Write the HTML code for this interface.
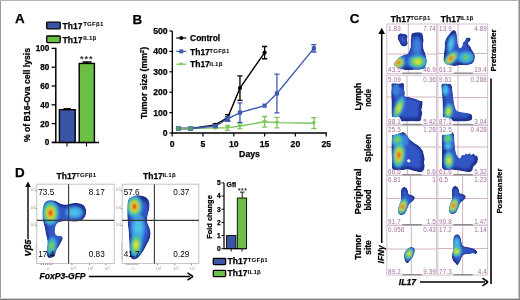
<!DOCTYPE html><html><head><meta charset="utf-8"><style>html,body{margin:0;padding:0;background:#fff;overflow:hidden}svg{display:block;filter:blur(0.3px)}text{font-family:"Liberation Sans",sans-serif}</style></head><body>
<svg width="520" height="300" viewBox="0 0 520 300">
<defs>
<radialGradient id="hotR" cx="50%" cy="50%" r="50%"><stop offset="0" stop-color="#d0201a"/><stop offset="0.25" stop-color="#e8a020"/><stop offset="0.45" stop-color="#d8e030"/><stop offset="0.65" stop-color="#60c050"/><stop offset="0.85" stop-color="#30b0d8"/><stop offset="1" stop-color="#3070d0" stop-opacity="0"/></radialGradient>
<radialGradient id="hotY" cx="50%" cy="50%" r="50%"><stop offset="0" stop-color="#e8e030"/><stop offset="0.3" stop-color="#a0d040"/><stop offset="0.55" stop-color="#50c060"/><stop offset="0.8" stop-color="#30a8e0"/><stop offset="1" stop-color="#3070d0" stop-opacity="0"/></radialGradient>
<radialGradient id="hotG" cx="50%" cy="50%" r="50%"><stop offset="0" stop-color="#70c850"/><stop offset="0.45" stop-color="#40b8c0"/><stop offset="0.8" stop-color="#3090e0"/><stop offset="1" stop-color="#3070d0" stop-opacity="0"/></radialGradient>
<radialGradient id="hotC" cx="50%" cy="50%" r="50%"><stop offset="0" stop-color="#50c8e8"/><stop offset="0.6" stop-color="#3898e0"/><stop offset="1" stop-color="#3070d0" stop-opacity="0"/></radialGradient>
<filter id="bl" x="-50%" y="-50%" width="200%" height="200%"><feGaussianBlur stdDeviation="0.9"/></filter>
</defs>
<rect x="0" y="0" width="520" height="300" fill="#fff"/>
<text x="15.0" y="23.4" font-size="13.4" font-weight="bold" text-anchor="start" fill="#000" stroke="#000" stroke-width="0.25" >A</text>
<rect x="46.7" y="22.2" width="13.5" height="6.6" rx="0.8" fill="#3a55a5" stroke="#000" stroke-width="1.3"/>
<rect x="46.7" y="36.0" width="13.5" height="6.6" rx="0.8" fill="#6cbf45" stroke="#000" stroke-width="1.3"/>
<text x="62.5" y="28.7" font-size="8.55" font-weight="bold" text-anchor="start" fill="#000" stroke="#000" stroke-width="0.25" >Th17</text>
<text x="83.2" y="26.2" font-size="6.2" font-weight="bold" text-anchor="start" fill="#000" letter-spacing="0.15">TGFβ1</text>
<text x="62.5" y="42.6" font-size="8.55" font-weight="bold" text-anchor="start" fill="#000" stroke="#000" stroke-width="0.25" >Th17</text>
<text x="83.2" y="40.0" font-size="6.2" font-weight="bold" text-anchor="start" fill="#000" letter-spacing="0.15">IL1β</text>
<path d="M55.8,47.8 V142.4 M52,142.4 H99" stroke="#000" stroke-width="1.5" fill="none"/>
<path d="M51.6,142.40 H55.8" stroke="#000" stroke-width="1.3"/>
<text x="49.4" y="145.3" font-size="8.15" font-weight="bold" text-anchor="end" fill="#000" stroke="#000" stroke-width="0.25" >0</text>
<path d="M51.6,123.60 H55.8" stroke="#000" stroke-width="1.3"/>
<text x="49.4" y="126.50000000000001" font-size="8.15" font-weight="bold" text-anchor="end" fill="#000" stroke="#000" stroke-width="0.25" >20</text>
<path d="M51.6,104.80 H55.8" stroke="#000" stroke-width="1.3"/>
<text x="49.4" y="107.70000000000002" font-size="8.15" font-weight="bold" text-anchor="end" fill="#000" stroke="#000" stroke-width="0.25" >40</text>
<path d="M51.6,86.00 H55.8" stroke="#000" stroke-width="1.3"/>
<text x="49.4" y="88.9" font-size="8.15" font-weight="bold" text-anchor="end" fill="#000" stroke="#000" stroke-width="0.25" >60</text>
<path d="M51.6,67.20 H55.8" stroke="#000" stroke-width="1.3"/>
<text x="49.4" y="70.10000000000001" font-size="8.15" font-weight="bold" text-anchor="end" fill="#000" stroke="#000" stroke-width="0.25" >80</text>
<path d="M51.6,48.40 H55.8" stroke="#000" stroke-width="1.3"/>
<text x="49.4" y="51.300000000000004" font-size="8.15" font-weight="bold" text-anchor="end" fill="#000" stroke="#000" stroke-width="0.25" >100</text>
<path d="M67,142.4 V146.6 M86.5,142.4 V146.6" stroke="#000" stroke-width="1.1"/>
<rect x="59.4" y="109.69" width="15.8" height="32.71" fill="#3a55a5" stroke="#000" stroke-width="1.4"/>
<path d="M63.5,108.65 H71" stroke="#000" stroke-width="1.2"/>
<rect x="79.2" y="63.44" width="15.2" height="78.96" fill="#6cbf45" stroke="#000" stroke-width="1.4"/>
<path d="M82.5,61.94 H91.5 M86.8,61.94 V63.44" stroke="#000" stroke-width="1.4"/>
<text x="86.8" y="62.3" font-size="9.0" font-weight="bold" text-anchor="middle" fill="#333" letter-spacing="1.0">***</text>
<text transform="translate(29.7,95) rotate(-90)" x="0" y="0" font-size="8.6" font-weight="bold" textLength="94" lengthAdjust="spacingAndGlyphs" text-anchor="middle" fill="#000" stroke="#000" stroke-width="0.25" >% of B16-Ova cell lysis</text>
<text x="132.6" y="23.5" font-size="13.4" font-weight="bold" text-anchor="start" fill="#000" stroke="#000" stroke-width="0.25" >B</text>
<path d="M172.3,31.00 V133.0 H327" stroke="#000" stroke-width="1.3" fill="none"/>
<path d="M169.4,133.00 H172.3" stroke="#000" stroke-width="1.2"/>
<text x="167.6" y="135.9" font-size="8.6" font-weight="bold" text-anchor="end" fill="#000" stroke="#000" stroke-width="0.25" >0</text>
<path d="M169.4,112.60 H172.3" stroke="#000" stroke-width="1.2"/>
<text x="167.6" y="115.5" font-size="8.6" font-weight="bold" text-anchor="end" fill="#000" stroke="#000" stroke-width="0.25" >100</text>
<path d="M169.4,92.20 H172.3" stroke="#000" stroke-width="1.2"/>
<text x="167.6" y="95.10000000000001" font-size="8.6" font-weight="bold" text-anchor="end" fill="#000" stroke="#000" stroke-width="0.25" >200</text>
<path d="M169.4,71.80 H172.3" stroke="#000" stroke-width="1.2"/>
<text x="167.6" y="74.70000000000002" font-size="8.6" font-weight="bold" text-anchor="end" fill="#000" stroke="#000" stroke-width="0.25" >300</text>
<path d="M169.4,51.40 H172.3" stroke="#000" stroke-width="1.2"/>
<text x="167.6" y="54.300000000000004" font-size="8.6" font-weight="bold" text-anchor="end" fill="#000" stroke="#000" stroke-width="0.25" >400</text>
<path d="M169.4,31.00 H172.3" stroke="#000" stroke-width="1.2"/>
<text x="167.6" y="33.9" font-size="8.6" font-weight="bold" text-anchor="end" fill="#000" stroke="#000" stroke-width="0.25" >500</text>
<path d="M172.20,133.0 V136.6" stroke="#000" stroke-width="1.2"/>
<text x="172.2" y="146.6" font-size="8.6" font-weight="bold" text-anchor="middle" fill="#000" stroke="#000" stroke-width="0.25" >0</text>
<path d="M203.00,133.0 V136.6" stroke="#000" stroke-width="1.2"/>
<text x="203.0" y="146.6" font-size="8.6" font-weight="bold" text-anchor="middle" fill="#000" stroke="#000" stroke-width="0.25" >5</text>
<path d="M233.80,133.0 V136.6" stroke="#000" stroke-width="1.2"/>
<text x="233.79999999999998" y="146.6" font-size="8.6" font-weight="bold" text-anchor="middle" fill="#000" stroke="#000" stroke-width="0.25" >10</text>
<path d="M264.60,133.0 V136.6" stroke="#000" stroke-width="1.2"/>
<text x="264.6" y="146.6" font-size="8.6" font-weight="bold" text-anchor="middle" fill="#000" stroke="#000" stroke-width="0.25" >15</text>
<path d="M295.40,133.0 V136.6" stroke="#000" stroke-width="1.2"/>
<text x="295.4" y="146.6" font-size="8.6" font-weight="bold" text-anchor="middle" fill="#000" stroke="#000" stroke-width="0.25" >20</text>
<path d="M326.20,133.0 V136.6" stroke="#000" stroke-width="1.2"/>
<text x="326.2" y="146.6" font-size="8.6" font-weight="bold" text-anchor="middle" fill="#000" stroke="#000" stroke-width="0.25" >25</text>
<text x="249.5" y="156.6" font-size="8.7" font-weight="bold" text-anchor="middle" fill="#000" stroke="#000" stroke-width="0.25" >Days</text>
<text transform="translate(147.0,83) rotate(-90)" x="0" y="0" font-size="8.7" font-weight="bold" text-anchor="middle" fill="#000" stroke="#000" stroke-width="0.25" >Tumor size (mm<tspan font-size="6" dy="-3">2</tspan><tspan dy="3">)</tspan></text>
<polyline points="178.36,128.51 190.68,128.51 215.32,127.90 227.64,127.90 239.96,126.06 264.60,121.78 276.92,122.60 313.88,123.21" fill="none" stroke="#7cc55a" stroke-width="1.4"/>
<path d="M215.32,127.29 V128.51 M212.72,127.29 h5.2 M212.72,128.51 h5.2" stroke="#7cc55a" stroke-width="1.3"/>
<path d="M227.64,125.45 V130.35 M225.04,125.45 h5.2 M225.04,130.35 h5.2" stroke="#7cc55a" stroke-width="1.3"/>
<path d="M239.96,123.21 V128.92 M237.36,123.21 h5.2 M237.36,128.92 h5.2" stroke="#7cc55a" stroke-width="1.3"/>
<path d="M264.60,116.48 V127.08 M262.00,116.48 h5.2 M262.00,127.08 h5.2" stroke="#7cc55a" stroke-width="1.3"/>
<path d="M276.92,117.29 V127.90 M274.32,117.29 h5.2 M274.32,127.90 h5.2" stroke="#7cc55a" stroke-width="1.3"/>
<path d="M313.88,117.70 V128.72 M311.28,117.70 h5.2 M311.28,128.72 h5.2" stroke="#7cc55a" stroke-width="1.3"/>
<path d="M175.96,126.91 h4.8 l-2.4,3.6 z" fill="#7cc55a"/>
<path d="M188.28,126.91 h4.8 l-2.4,3.6 z" fill="#7cc55a"/>
<path d="M212.92,126.30 h4.8 l-2.4,3.6 z" fill="#7cc55a"/>
<path d="M225.24,126.30 h4.8 l-2.4,3.6 z" fill="#7cc55a"/>
<path d="M237.56,124.46 h4.8 l-2.4,3.6 z" fill="#7cc55a"/>
<path d="M262.20,120.18 h4.8 l-2.4,3.6 z" fill="#7cc55a"/>
<path d="M274.52,121.00 h4.8 l-2.4,3.6 z" fill="#7cc55a"/>
<path d="M311.48,121.61 h4.8 l-2.4,3.6 z" fill="#7cc55a"/>
<polyline points="178.36,128.51 190.68,128.51 215.32,124.84 227.64,117.70 239.96,88.12 264.60,52.62" fill="none" stroke="#000" stroke-width="1.4"/>
<path d="M215.32,123.82 V125.86 M212.72,123.82 h5.2 M212.72,125.86 h5.2" stroke="#000" stroke-width="1.3"/>
<path d="M227.64,114.64 V120.76 M225.04,114.64 h5.2 M225.04,120.76 h5.2" stroke="#000" stroke-width="1.3"/>
<path d="M239.96,75.88 V100.36 M237.36,75.88 h5.2 M237.36,100.36 h5.2" stroke="#000" stroke-width="1.3"/>
<path d="M264.60,46.50 V58.74 M262.00,46.50 h5.2 M262.00,58.74 h5.2" stroke="#000" stroke-width="1.3"/>
<circle cx="178.36" cy="128.51" r="2.1" fill="#000"/>
<circle cx="190.68" cy="128.51" r="2.1" fill="#000"/>
<circle cx="215.32" cy="124.84" r="2.1" fill="#000"/>
<circle cx="227.64" cy="117.70" r="2.1" fill="#000"/>
<circle cx="239.96" cy="88.12" r="2.1" fill="#000"/>
<circle cx="264.60" cy="52.62" r="2.1" fill="#000"/>
<polyline points="178.36,128.51 190.68,128.51 215.32,126.06 227.64,118.92 239.96,112.60 264.60,105.66 276.92,93.42 313.88,48.34" fill="none" stroke="#3f5bb0" stroke-width="1.4"/>
<path d="M215.32,125.25 V126.88 M212.72,125.25 h5.2 M212.72,126.88 h5.2" stroke="#3f5bb0" stroke-width="1.3"/>
<path d="M227.64,116.48 V121.37 M225.04,116.48 h5.2 M225.04,121.37 h5.2" stroke="#3f5bb0" stroke-width="1.3"/>
<path d="M239.96,102.81 V122.39 M237.36,102.81 h5.2 M237.36,122.39 h5.2" stroke="#3f5bb0" stroke-width="1.3"/>
<path d="M276.92,74.04 V112.80 M274.32,74.04 h5.2 M274.32,112.80 h5.2" stroke="#3f5bb0" stroke-width="1.3"/>
<path d="M313.88,44.67 V52.01 M311.28,44.67 h5.2 M311.28,52.01 h5.2" stroke="#3f5bb0" stroke-width="1.3"/>
<rect x="176.26" y="126.41" width="4.2" height="4.2" fill="#3f5bb0"/>
<rect x="188.58" y="126.41" width="4.2" height="4.2" fill="#3f5bb0"/>
<rect x="213.22" y="123.96" width="4.2" height="4.2" fill="#3f5bb0"/>
<rect x="225.54" y="116.82" width="4.2" height="4.2" fill="#3f5bb0"/>
<rect x="237.86" y="110.50" width="4.2" height="4.2" fill="#3f5bb0"/>
<rect x="262.50" y="103.56" width="4.2" height="4.2" fill="#3f5bb0"/>
<rect x="274.82" y="91.32" width="4.2" height="4.2" fill="#3f5bb0"/>
<rect x="311.78" y="46.24" width="4.2" height="4.2" fill="#3f5bb0"/>
<rect x="175.86" y="126.01" width="5" height="5" fill="#4d8590"/><rect x="177.06" y="127.21" width="2.6" height="2.6" fill="#5fa070"/>
<rect x="188.18" y="126.01" width="5" height="5" fill="#4d8590"/><rect x="189.38" y="127.21" width="2.6" height="2.6" fill="#5fa070"/>
<path d="M180.86,128.51 H188.18" stroke="#7ab070" stroke-width="1.2"/>
<path d="M176.3,38 H186.3" stroke="#000" stroke-width="1.2"/><circle cx="181.3" cy="38" r="2" fill="#000"/>
<text x="190" y="40.6" font-size="8.5" font-weight="bold" text-anchor="start" fill="#000" stroke="#000" stroke-width="0.25" >Control</text>
<path d="M176.3,51.4 H186.3" stroke="#3f5bb0" stroke-width="1.2"/><rect x="179.3" y="49.4" width="4" height="4" fill="#3f5bb0"/>
<text x="190" y="54.8" font-size="8.5" font-weight="bold" text-anchor="start" fill="#000" stroke="#000" stroke-width="0.25" >Th17</text>
<text x="209.3" y="52.9" font-size="6.2" font-weight="bold" text-anchor="start" fill="#000" letter-spacing="0.15">TGFβ1</text>
<path d="M176.3,64.2 H186.3" stroke="#7cc55a" stroke-width="1.2"/><path d="M179,62.7 h4.6 l-2.3,3.4z" fill="#7cc55a"/>
<text x="190" y="67.4" font-size="8.5" font-weight="bold" text-anchor="start" fill="#000" stroke="#000" stroke-width="0.25" >Th17</text>
<text x="209.3" y="65.6" font-size="6.2" font-weight="bold" text-anchor="start" fill="#000" letter-spacing="0.15">IL1β</text>
<text x="349.8" y="23.0" font-size="13.4" font-weight="bold" text-anchor="start" fill="#000" stroke="#000" stroke-width="0.25" >C</text>
<text x="390.8" y="21.8" font-size="8.5" font-weight="bold" text-anchor="start" fill="#000" stroke="#000" stroke-width="0.25" >Th17</text>
<text x="410.2" y="19.6" font-size="6.2" font-weight="bold" text-anchor="start" fill="#000" letter-spacing="0.15">TGFβ1</text>
<text x="440.8" y="21.8" font-size="8.5" font-weight="bold" text-anchor="start" fill="#000" stroke="#000" stroke-width="0.25" >Th17</text>
<text x="460.2" y="19.6" font-size="6.2" font-weight="bold" text-anchor="start" fill="#000" letter-spacing="0.15">IL1β</text>
<rect x="386.8" y="24.0" width="49.8" height="49.6" fill="#fff" stroke="#d3c0cf" stroke-width="1"/>
<path d="M408.3,24.0 V73.6 M386.8,54 H436.6" stroke="#cfa9b9" stroke-width="0.9" fill="none"/>
<rect x="437.8" y="24.0" width="49.8" height="49.6" fill="#fff" stroke="#d3c0cf" stroke-width="1"/>
<path d="M458.1,24.0 V73.6 M437.8,53.5 H487.6" stroke="#cfa9b9" stroke-width="0.9" fill="none"/>
<rect x="386.8" y="75.3" width="49.8" height="49.6" fill="#fff" stroke="#d3c0cf" stroke-width="1"/>
<path d="M407,75.3 V124.9 M386.8,97 H436.6" stroke="#cfa9b9" stroke-width="0.9" fill="none"/>
<rect x="437.8" y="75.3" width="49.8" height="49.6" fill="#fff" stroke="#d3c0cf" stroke-width="1"/>
<path d="M458,75.3 V124.9 M437.8,97.5 H487.6" stroke="#cfa9b9" stroke-width="0.9" fill="none"/>
<rect x="386.8" y="125.5" width="49.8" height="49.6" fill="#fff" stroke="#d3c0cf" stroke-width="1"/>
<path d="M407.4,125.5 V175.1 M386.8,147 H436.6" stroke="#cfa9b9" stroke-width="0.9" fill="none"/>
<rect x="437.8" y="125.5" width="49.8" height="49.6" fill="#fff" stroke="#d3c0cf" stroke-width="1"/>
<path d="M458,125.5 V175.1 M437.8,147 H487.6" stroke="#cfa9b9" stroke-width="0.9" fill="none"/>
<rect x="386.8" y="175.5" width="49.8" height="49.6" fill="#fff" stroke="#d3c0cf" stroke-width="1"/>
<path d="M410.5,175.5 V225.1 M386.8,198.5 H436.6" stroke="#cfa9b9" stroke-width="0.9" fill="none"/>
<rect x="437.8" y="175.5" width="49.8" height="49.6" fill="#fff" stroke="#d3c0cf" stroke-width="1"/>
<path d="M462.6,175.5 V225.1 M437.8,198.5 H487.6" stroke="#cfa9b9" stroke-width="0.9" fill="none"/>
<rect x="386.8" y="225.5" width="49.8" height="49.6" fill="#fff" stroke="#d3c0cf" stroke-width="1"/>
<path d="M411.3,225.5 V275.1 M386.8,249 H436.6" stroke="#cfa9b9" stroke-width="0.9" fill="none"/>
<rect x="437.8" y="225.5" width="49.8" height="49.6" fill="#fff" stroke="#d3c0cf" stroke-width="1"/>
<path d="M462.6,225.5 V275.1 M437.8,248.5 H487.6" stroke="#cfa9b9" stroke-width="0.9" fill="none"/>
<clipPath id="cp1"><path d="M397.8,35.5 C398.1,34.5 399.1,33.7 400.0,33.4 C400.9,33.1 402.4,33.6 403.5,33.8 C404.6,34.0 405.6,34.1 406.3,34.6 C407.0,35.1 407.5,36.1 407.6,37.0 C407.7,37.9 406.9,39.0 406.9,40.0 C406.9,41.0 407.9,42.0 407.8,43.0 C407.7,44.0 407.0,45.2 406.3,45.8 C405.6,46.4 404.4,46.7 403.5,46.6 C402.6,46.5 401.6,46.0 401.0,45.3 C400.4,44.6 400.1,43.5 399.6,42.5 C399.1,41.5 398.3,40.7 398.0,39.5 C397.7,38.3 397.5,36.5 397.8,35.5 Z"/></clipPath><g clip-path="url(#cp1)"><path d="M397.8,35.5 C398.1,34.5 399.1,33.7 400.0,33.4 C400.9,33.1 402.4,33.6 403.5,33.8 C404.6,34.0 405.6,34.1 406.3,34.6 C407.0,35.1 407.5,36.1 407.6,37.0 C407.7,37.9 406.9,39.0 406.9,40.0 C406.9,41.0 407.9,42.0 407.8,43.0 C407.7,44.0 407.0,45.2 406.3,45.8 C405.6,46.4 404.4,46.7 403.5,46.6 C402.6,46.5 401.6,46.0 401.0,45.3 C400.4,44.6 400.1,43.5 399.6,42.5 C399.1,41.5 398.3,40.7 398.0,39.5 C397.7,38.3 397.5,36.5 397.8,35.5 Z" fill="#1f3292"/><path d="M400.0,37.2 C400.2,36.6 400.7,36.1 401.3,35.9 C401.8,35.8 402.7,36.1 403.4,36.2 C404.0,36.3 404.6,36.3 405.1,36.7 C405.5,37.0 405.8,37.6 405.8,38.1 C405.9,38.6 405.4,39.3 405.4,39.9 C405.4,40.5 406.0,41.1 406.0,41.7 C405.9,42.3 405.5,43.0 405.1,43.4 C404.6,43.7 403.9,43.9 403.4,43.9 C402.8,43.8 402.3,43.5 401.9,43.1 C401.5,42.7 401.3,42.0 401.0,41.4 C400.7,40.8 400.3,40.3 400.1,39.6 C399.9,38.9 399.8,37.8 400.0,37.2 Z" fill="#3157c4" filter="url(#bl)"/></g><clipPath id="cp2"><path d="M411.5,34.1 C412.1,33.3 413.2,32.9 414.5,32.6 C415.8,32.3 417.8,32.2 419.1,32.3 C420.4,32.4 421.6,32.7 422.2,33.4 C422.8,34.1 422.8,35.2 423.0,36.4 C423.2,37.5 423.7,38.9 423.7,40.3 C423.7,41.7 423.0,43.4 423.0,44.9 C423.0,46.4 423.3,48.1 423.7,49.5 C424.1,50.9 424.9,52.0 425.3,53.3 C425.7,54.6 425.8,55.8 426.0,57.1 C426.2,58.4 426.8,59.7 426.8,61.0 C426.8,62.3 426.4,63.6 426.0,64.8 C425.6,66.0 425.4,67.4 424.5,68.2 C423.6,69.0 422.4,69.2 420.7,69.4 C419.0,69.7 416.6,69.6 414.5,69.7 C412.4,69.8 410.4,70.2 408.4,70.2 C406.4,70.2 404.2,69.9 402.3,69.4 C400.4,68.9 398.3,67.9 396.9,67.1 C395.5,66.3 394.2,65.6 393.8,64.8 C393.4,64.0 394.0,63.5 394.6,62.5 C395.2,61.5 396.7,59.7 397.7,58.7 C398.7,57.7 399.5,57.0 400.7,56.4 C401.9,55.8 403.5,55.2 404.6,54.8 C405.8,54.4 406.8,54.7 407.6,54.1 C408.4,53.5 408.7,52.3 409.2,51.0 C409.7,49.7 410.4,47.9 410.7,46.4 C410.9,44.9 410.6,43.3 410.7,41.8 C410.8,40.3 411.1,38.5 411.2,37.2 C411.3,35.9 410.9,34.9 411.5,34.1 Z"/></clipPath><g clip-path="url(#cp2)"><path d="M411.5,34.1 C412.1,33.3 413.2,32.9 414.5,32.6 C415.8,32.3 417.8,32.2 419.1,32.3 C420.4,32.4 421.6,32.7 422.2,33.4 C422.8,34.1 422.8,35.2 423.0,36.4 C423.2,37.5 423.7,38.9 423.7,40.3 C423.7,41.7 423.0,43.4 423.0,44.9 C423.0,46.4 423.3,48.1 423.7,49.5 C424.1,50.9 424.9,52.0 425.3,53.3 C425.7,54.6 425.8,55.8 426.0,57.1 C426.2,58.4 426.8,59.7 426.8,61.0 C426.8,62.3 426.4,63.6 426.0,64.8 C425.6,66.0 425.4,67.4 424.5,68.2 C423.6,69.0 422.4,69.2 420.7,69.4 C419.0,69.7 416.6,69.6 414.5,69.7 C412.4,69.8 410.4,70.2 408.4,70.2 C406.4,70.2 404.2,69.9 402.3,69.4 C400.4,68.9 398.3,67.9 396.9,67.1 C395.5,66.3 394.2,65.6 393.8,64.8 C393.4,64.0 394.0,63.5 394.6,62.5 C395.2,61.5 396.7,59.7 397.7,58.7 C398.7,57.7 399.5,57.0 400.7,56.4 C401.9,55.8 403.5,55.2 404.6,54.8 C405.8,54.4 406.8,54.7 407.6,54.1 C408.4,53.5 408.7,52.3 409.2,51.0 C409.7,49.7 410.4,47.9 410.7,46.4 C410.9,44.9 410.6,43.3 410.7,41.8 C410.8,40.3 411.1,38.5 411.2,37.2 C411.3,35.9 410.9,34.9 411.5,34.1 Z" fill="#1f3292"/><path d="M411.9,37.9 C412.3,37.2 413.3,36.9 414.3,36.7 C415.3,36.4 416.9,36.3 417.9,36.4 C419.0,36.5 419.9,36.8 420.4,37.3 C420.9,37.8 420.9,38.8 421.1,39.7 C421.3,40.6 421.6,41.7 421.6,42.8 C421.6,44.0 421.1,45.3 421.1,46.5 C421.1,47.7 421.3,49.1 421.6,50.2 C421.9,51.3 422.6,52.2 422.9,53.2 C423.2,54.2 423.3,55.2 423.5,56.3 C423.7,57.3 424.1,58.4 424.1,59.4 C424.1,60.4 423.8,61.5 423.5,62.4 C423.2,63.4 423.0,64.5 422.3,65.1 C421.6,65.8 420.6,65.9 419.2,66.1 C417.9,66.3 415.9,66.2 414.3,66.3 C412.6,66.4 411.0,66.8 409.4,66.7 C407.8,66.7 406.0,66.5 404.5,66.1 C403.0,65.7 401.3,64.9 400.2,64.3 C399.1,63.6 398.0,63.0 397.7,62.4 C397.4,61.8 397.8,61.4 398.3,60.6 C398.9,59.8 400.0,58.4 400.8,57.5 C401.6,56.7 402.3,56.2 403.2,55.7 C404.1,55.2 405.4,54.7 406.3,54.4 C407.3,54.1 408.1,54.4 408.7,53.9 C409.4,53.4 409.6,52.4 410.0,51.4 C410.4,50.4 411.0,48.9 411.2,47.7 C411.4,46.5 411.2,45.2 411.2,44.0 C411.3,42.8 411.5,41.4 411.6,40.3 C411.7,39.3 411.4,38.5 411.9,37.9 Z" fill="#3157c4" filter="url(#bl)"/><g transform="rotate(0 417 47)" filter="url(#bl)"><ellipse cx="417" cy="47" rx="4.00" ry="9.00" fill="#3a7fd8"/></g><g transform="rotate(35 398.6 62.5)" filter="url(#bl)"><ellipse cx="398.6" cy="62.5" rx="6.50" ry="7.00" fill="#3aa8e0"/><ellipse cx="398.6" cy="62.5" rx="5.07" ry="5.46" fill="#5cc86a"/><ellipse cx="398.6" cy="62.5" rx="3.58" ry="3.85" fill="#c8e040"/><ellipse cx="398.6" cy="62.5" rx="2.34" ry="2.52" fill="#f0a020"/><ellipse cx="398.6" cy="62.5" rx="1.30" ry="1.40" fill="#d82818"/></g><g transform="rotate(0 417.6 61.7)" filter="url(#bl)"><ellipse cx="417.6" cy="61.7" rx="9.50" ry="7.00" fill="#3aa8e0"/><ellipse cx="417.6" cy="61.7" rx="6.84" ry="5.04" fill="#5cc86a"/><ellipse cx="417.6" cy="61.7" rx="4.28" ry="3.15" fill="#b8dc40"/><ellipse cx="417.6" cy="61.7" rx="2.09" ry="1.54" fill="#e8e430"/></g></g><clipPath id="cp3"><path d="M453.6,30.0 C454.4,30.0 455.5,30.7 456.0,31.6 C456.5,32.5 456.6,34.1 456.8,35.6 C457.0,37.1 457.1,38.8 457.3,40.4 C457.5,42.0 457.6,43.9 458.0,45.2 C458.4,46.5 459.3,48.3 460.0,48.4 C460.7,48.5 461.9,47.0 462.4,46.0 C462.9,45.0 462.8,43.3 463.2,42.5 C463.6,41.7 464.5,41.6 465.0,41.0 C465.5,40.4 465.3,39.2 466.0,38.6 C466.7,38.0 468.2,37.5 469.0,37.6 C469.8,37.7 470.7,38.4 470.8,39.0 C470.9,39.6 470.1,40.8 469.6,41.5 C469.1,42.2 468.2,42.5 468.0,43.0 C467.8,43.5 468.2,44.0 468.6,44.6 C469.0,45.2 469.8,45.9 470.4,46.8 C471.0,47.7 471.3,48.8 472.0,50.0 C472.7,51.2 474.0,52.7 474.5,54.0 C475.0,55.3 475.0,56.7 474.9,58.0 C474.8,59.3 474.4,60.9 473.7,62.0 C472.9,63.1 472.0,64.0 470.4,64.5 C468.8,65.0 465.9,65.2 464.0,65.3 C462.1,65.4 460.8,65.2 459.2,65.3 C457.6,65.4 456.0,66.0 454.4,66.0 C452.8,66.0 451.1,65.7 449.6,65.3 C448.1,64.9 446.6,64.5 445.6,63.7 C444.6,62.9 443.9,62.0 443.6,60.5 C443.3,59.0 443.6,56.8 443.8,54.8 C444.0,52.8 444.4,50.5 444.6,48.4 C444.8,46.3 444.7,43.7 445.0,42.0 C445.3,40.3 445.8,39.2 446.4,38.0 C447.0,36.8 448.0,35.9 448.8,34.8 C449.6,33.7 450.4,32.4 451.2,31.6 C452.0,30.8 452.8,30.0 453.6,30.0 Z"/></clipPath><g clip-path="url(#cp3)"><path d="M453.6,30.0 C454.4,30.0 455.5,30.7 456.0,31.6 C456.5,32.5 456.6,34.1 456.8,35.6 C457.0,37.1 457.1,38.8 457.3,40.4 C457.5,42.0 457.6,43.9 458.0,45.2 C458.4,46.5 459.3,48.3 460.0,48.4 C460.7,48.5 461.9,47.0 462.4,46.0 C462.9,45.0 462.8,43.3 463.2,42.5 C463.6,41.7 464.5,41.6 465.0,41.0 C465.5,40.4 465.3,39.2 466.0,38.6 C466.7,38.0 468.2,37.5 469.0,37.6 C469.8,37.7 470.7,38.4 470.8,39.0 C470.9,39.6 470.1,40.8 469.6,41.5 C469.1,42.2 468.2,42.5 468.0,43.0 C467.8,43.5 468.2,44.0 468.6,44.6 C469.0,45.2 469.8,45.9 470.4,46.8 C471.0,47.7 471.3,48.8 472.0,50.0 C472.7,51.2 474.0,52.7 474.5,54.0 C475.0,55.3 475.0,56.7 474.9,58.0 C474.8,59.3 474.4,60.9 473.7,62.0 C472.9,63.1 472.0,64.0 470.4,64.5 C468.8,65.0 465.9,65.2 464.0,65.3 C462.1,65.4 460.8,65.2 459.2,65.3 C457.6,65.4 456.0,66.0 454.4,66.0 C452.8,66.0 451.1,65.7 449.6,65.3 C448.1,64.9 446.6,64.5 445.6,63.7 C444.6,62.9 443.9,62.0 443.6,60.5 C443.3,59.0 443.6,56.8 443.8,54.8 C444.0,52.8 444.4,50.5 444.6,48.4 C444.8,46.3 444.7,43.7 445.0,42.0 C445.3,40.3 445.8,39.2 446.4,38.0 C447.0,36.8 448.0,35.9 448.8,34.8 C449.6,33.7 450.4,32.4 451.2,31.6 C452.0,30.8 452.8,30.0 453.6,30.0 Z" fill="#1f3292"/><path d="M454.9,33.6 C455.5,33.6 456.4,34.1 456.8,34.8 C457.2,35.6 457.2,36.9 457.4,38.0 C457.6,39.2 457.7,40.6 457.8,41.9 C458.0,43.2 458.0,44.6 458.4,45.7 C458.7,46.8 459.4,48.2 460.0,48.3 C460.6,48.4 461.5,47.1 461.9,46.4 C462.3,45.6 462.2,44.2 462.5,43.6 C462.9,42.9 463.6,42.9 464.0,42.4 C464.4,41.8 464.2,40.9 464.8,40.4 C465.3,40.0 466.5,39.6 467.2,39.6 C467.8,39.7 468.5,40.2 468.6,40.8 C468.7,41.3 468.0,42.2 467.7,42.8 C467.3,43.3 466.5,43.5 466.4,44.0 C466.2,44.4 466.5,44.7 466.9,45.2 C467.2,45.7 467.8,46.3 468.3,47.0 C468.8,47.7 469.0,48.6 469.6,49.6 C470.1,50.5 471.2,51.7 471.6,52.8 C472.0,53.8 472.0,54.9 471.9,56.0 C471.8,57.0 471.5,58.3 470.9,59.2 C470.3,60.0 469.6,60.7 468.3,61.2 C467.0,61.6 464.7,61.7 463.2,61.8 C461.7,61.9 460.6,61.7 459.3,61.8 C458.1,61.9 456.8,62.4 455.5,62.4 C454.2,62.4 452.8,62.1 451.7,61.8 C450.5,61.5 449.3,61.2 448.5,60.5 C447.7,59.9 447.1,59.1 446.9,58.0 C446.6,56.8 446.9,55.0 447.0,53.4 C447.2,51.8 447.5,50.0 447.7,48.3 C447.8,46.6 447.7,44.5 448.0,43.2 C448.2,41.8 448.6,40.9 449.1,40.0 C449.6,39.0 450.4,38.2 451.0,37.4 C451.7,36.5 452.3,35.5 452.9,34.8 C453.6,34.2 454.2,33.6 454.9,33.6 Z" fill="#3157c4" filter="url(#bl)"/><g transform="rotate(10 451 44)" filter="url(#bl)"><ellipse cx="451" cy="44" rx="3.50" ry="9.00" fill="#3c9ee0"/><ellipse cx="451" cy="44" rx="1.93" ry="4.95" fill="#50c0e8"/></g><g transform="rotate(0 466 57.6)" filter="url(#bl)"><ellipse cx="466" cy="57.6" rx="8.00" ry="6.00" fill="#3c9ee0"/><ellipse cx="466" cy="57.6" rx="4.40" ry="3.30" fill="#50c0e8"/></g><g transform="rotate(45 451 58.5)" filter="url(#bl)"><ellipse cx="451" cy="58.5" rx="5.00" ry="9.50" fill="#3aa8e0"/><ellipse cx="451" cy="58.5" rx="3.90" ry="7.41" fill="#5cc86a"/><ellipse cx="451" cy="58.5" rx="2.75" ry="5.23" fill="#c8e040"/><ellipse cx="451" cy="58.5" rx="1.80" ry="3.42" fill="#f0a020"/><ellipse cx="451" cy="58.5" rx="1.00" ry="1.90" fill="#d82818"/></g><g transform="rotate(0 466 57.6)" filter="url(#bl)"><ellipse cx="466" cy="57.6" rx="5.50" ry="4.50" fill="#3aa8e0"/><ellipse cx="466" cy="57.6" rx="3.41" ry="2.79" fill="#58c470"/><ellipse cx="466" cy="57.6" rx="1.65" ry="1.35" fill="#88d050"/></g></g><clipPath id="cp4"><path d="M391.5,83.6 C392.0,82.9 393.1,83.3 394.4,83.3 C395.7,83.3 397.9,83.6 399.2,83.6 C400.5,83.6 401.6,83.0 402.4,83.1 C403.2,83.2 403.7,83.4 404.0,84.4 C404.3,85.4 403.9,87.9 404.0,89.2 C404.1,90.5 404.7,91.2 404.8,92.4 C404.9,93.6 404.1,95.7 404.8,96.4 C405.5,97.2 407.6,96.6 408.8,96.9 C410.0,97.2 410.9,97.7 412.0,98.0 C413.1,98.3 414.0,98.4 415.2,98.8 C416.4,99.2 418.0,100.0 419.2,100.4 C420.4,100.8 421.9,100.3 422.4,101.2 C422.9,102.1 422.5,104.5 422.4,106.0 C422.3,107.5 421.6,108.8 421.6,110.0 C421.6,111.2 422.4,112.1 422.4,113.2 C422.4,114.3 421.9,115.2 421.6,116.4 C421.3,117.6 421.6,119.6 420.8,120.4 C420.0,121.2 418.3,121.4 416.8,121.5 C415.3,121.6 413.9,121.2 412.0,121.2 C410.1,121.2 407.3,121.5 405.6,121.5 C403.9,121.5 402.7,121.9 401.6,121.2 C400.5,120.5 400.3,117.9 399.2,117.2 C398.1,116.5 396.4,117.3 395.2,117.2 C394.0,117.1 392.6,117.6 392.0,116.4 C391.4,115.2 391.6,112.4 391.5,110.0 C391.4,107.6 391.6,104.7 391.5,102.0 C391.4,99.3 391.2,96.4 391.2,94.0 C391.2,91.6 391.4,89.3 391.5,87.6 C391.6,85.9 391.0,84.3 391.5,83.6 Z"/></clipPath><g clip-path="url(#cp4)"><path d="M391.5,83.6 C392.0,82.9 393.1,83.3 394.4,83.3 C395.7,83.3 397.9,83.6 399.2,83.6 C400.5,83.6 401.6,83.0 402.4,83.1 C403.2,83.2 403.7,83.4 404.0,84.4 C404.3,85.4 403.9,87.9 404.0,89.2 C404.1,90.5 404.7,91.2 404.8,92.4 C404.9,93.6 404.1,95.7 404.8,96.4 C405.5,97.2 407.6,96.6 408.8,96.9 C410.0,97.2 410.9,97.7 412.0,98.0 C413.1,98.3 414.0,98.4 415.2,98.8 C416.4,99.2 418.0,100.0 419.2,100.4 C420.4,100.8 421.9,100.3 422.4,101.2 C422.9,102.1 422.5,104.5 422.4,106.0 C422.3,107.5 421.6,108.8 421.6,110.0 C421.6,111.2 422.4,112.1 422.4,113.2 C422.4,114.3 421.9,115.2 421.6,116.4 C421.3,117.6 421.6,119.6 420.8,120.4 C420.0,121.2 418.3,121.4 416.8,121.5 C415.3,121.6 413.9,121.2 412.0,121.2 C410.1,121.2 407.3,121.5 405.6,121.5 C403.9,121.5 402.7,121.9 401.6,121.2 C400.5,120.5 400.3,117.9 399.2,117.2 C398.1,116.5 396.4,117.3 395.2,117.2 C394.0,117.1 392.6,117.6 392.0,116.4 C391.4,115.2 391.6,112.4 391.5,110.0 C391.4,107.6 391.6,104.7 391.5,102.0 C391.4,99.3 391.2,96.4 391.2,94.0 C391.2,91.6 391.4,89.3 391.5,87.6 C391.6,85.9 391.0,84.3 391.5,83.6 Z" fill="#1f3292"/><path d="M394.4,87.5 C394.8,86.9 395.7,87.2 396.8,87.2 C397.8,87.2 399.5,87.5 400.6,87.5 C401.7,87.5 402.5,87.0 403.2,87.1 C403.8,87.2 404.2,87.3 404.4,88.1 C404.7,88.9 404.3,90.9 404.4,92.0 C404.5,93.0 405.0,93.6 405.1,94.5 C405.2,95.5 404.5,97.1 405.1,97.7 C405.6,98.3 407.3,97.9 408.3,98.1 C409.2,98.3 410.0,98.7 410.8,99.0 C411.7,99.3 412.4,99.3 413.4,99.6 C414.4,100.0 415.6,100.6 416.6,100.9 C417.6,101.2 418.7,100.8 419.2,101.6 C419.6,102.3 419.3,104.2 419.2,105.4 C419.1,106.6 418.5,107.6 418.5,108.6 C418.5,109.6 419.2,110.3 419.2,111.2 C419.2,112.0 418.7,112.8 418.5,113.7 C418.3,114.7 418.5,116.2 417.9,116.9 C417.2,117.6 415.9,117.7 414.7,117.8 C413.5,117.9 412.3,117.6 410.8,117.6 C409.3,117.6 407.1,117.8 405.7,117.8 C404.3,117.8 403.4,118.1 402.5,117.6 C401.7,117.0 401.5,114.9 400.6,114.4 C399.7,113.8 398.4,114.5 397.4,114.4 C396.4,114.3 395.3,114.7 394.8,113.7 C394.3,112.8 394.5,110.5 394.4,108.6 C394.4,106.7 394.5,104.3 394.4,102.2 C394.4,100.1 394.2,97.7 394.2,95.8 C394.2,93.9 394.4,92.1 394.4,90.7 C394.5,89.3 394.1,88.1 394.4,87.5 Z" fill="#3157c4" filter="url(#bl)"/><g transform="rotate(0 396 90)" filter="url(#bl)"><ellipse cx="396" cy="90" rx="4.00" ry="6.00" fill="#3a7fd8"/></g><g transform="rotate(20 398.8 108)" filter="url(#bl)"><ellipse cx="398.8" cy="108" rx="4.50" ry="12.00" fill="#3aa8e0"/><ellipse cx="398.8" cy="108" rx="3.24" ry="8.64" fill="#5cc86a"/><ellipse cx="398.8" cy="108" rx="2.02" ry="5.40" fill="#b8dc40"/><ellipse cx="398.8" cy="108" rx="0.99" ry="2.64" fill="#e8e430"/></g></g><clipPath id="cp5"><path d="M441.5,84.4 C442.1,83.7 443.8,83.6 445.2,83.6 C446.6,83.5 448.9,83.8 450.0,84.1 C451.1,84.4 451.2,84.1 451.6,85.2 C452.0,86.3 452.1,88.8 452.4,90.8 C452.7,92.8 452.9,95.1 453.2,97.2 C453.5,99.3 453.6,101.6 454.0,103.6 C454.4,105.6 454.9,107.9 455.6,109.2 C456.3,110.5 456.9,111.1 458.0,111.6 C459.1,112.1 460.5,112.2 462.0,112.4 C463.5,112.6 465.3,112.6 466.8,112.9 C468.3,113.2 469.9,113.4 470.8,114.0 C471.7,114.6 472.3,115.4 472.4,116.4 C472.5,117.4 472.5,119.1 471.6,119.9 C470.7,120.7 468.9,120.9 466.8,121.2 C464.7,121.5 461.1,121.5 458.8,121.5 C456.5,121.5 454.5,121.7 453.2,121.2 C451.9,120.8 452.0,119.4 450.8,118.8 C449.6,118.2 447.3,118.1 446.0,117.7 C444.7,117.3 443.3,117.7 442.8,116.4 C442.3,115.1 442.9,112.4 442.8,110.0 C442.8,107.6 442.6,104.7 442.5,102.0 C442.4,99.3 442.2,96.4 442.0,94.0 C441.8,91.6 441.6,89.2 441.5,87.6 C441.4,86.0 440.9,85.1 441.5,84.4 Z"/></clipPath><g clip-path="url(#cp5)"><path d="M441.5,84.4 C442.1,83.7 443.8,83.6 445.2,83.6 C446.6,83.5 448.9,83.8 450.0,84.1 C451.1,84.4 451.2,84.1 451.6,85.2 C452.0,86.3 452.1,88.8 452.4,90.8 C452.7,92.8 452.9,95.1 453.2,97.2 C453.5,99.3 453.6,101.6 454.0,103.6 C454.4,105.6 454.9,107.9 455.6,109.2 C456.3,110.5 456.9,111.1 458.0,111.6 C459.1,112.1 460.5,112.2 462.0,112.4 C463.5,112.6 465.3,112.6 466.8,112.9 C468.3,113.2 469.9,113.4 470.8,114.0 C471.7,114.6 472.3,115.4 472.4,116.4 C472.5,117.4 472.5,119.1 471.6,119.9 C470.7,120.7 468.9,120.9 466.8,121.2 C464.7,121.5 461.1,121.5 458.8,121.5 C456.5,121.5 454.5,121.7 453.2,121.2 C451.9,120.8 452.0,119.4 450.8,118.8 C449.6,118.2 447.3,118.1 446.0,117.7 C444.7,117.3 443.3,117.7 442.8,116.4 C442.3,115.1 442.9,112.4 442.8,110.0 C442.8,107.6 442.6,104.7 442.5,102.0 C442.4,99.3 442.2,96.4 442.0,94.0 C441.8,91.6 441.6,89.2 441.5,87.6 C441.4,86.0 440.9,85.1 441.5,84.4 Z" fill="#1f3292"/><path d="M444.0,88.7 C444.5,88.1 445.8,88.1 446.9,88.0 C448.1,88.0 449.9,88.2 450.8,88.4 C451.6,88.6 451.7,88.4 452.0,89.3 C452.4,90.2 452.5,92.2 452.7,93.8 C452.9,95.4 453.1,97.2 453.3,98.9 C453.5,100.6 453.6,102.4 454.0,104.0 C454.3,105.6 454.7,107.4 455.2,108.5 C455.8,109.6 456.3,110.0 457.2,110.4 C458.0,110.8 459.2,110.9 460.4,111.1 C461.5,111.2 463.0,111.2 464.2,111.5 C465.4,111.7 466.7,111.9 467.4,112.3 C468.2,112.8 468.6,113.5 468.7,114.3 C468.8,115.0 468.8,116.4 468.0,117.1 C467.3,117.7 465.9,117.9 464.2,118.1 C462.5,118.3 459.6,118.3 457.8,118.3 C456.0,118.3 454.4,118.5 453.3,118.1 C452.3,117.7 452.4,116.6 451.4,116.2 C450.4,115.7 448.6,115.6 447.6,115.3 C446.5,115.0 445.4,115.3 445.0,114.3 C444.6,113.2 445.0,111.1 445.0,109.1 C445.0,107.2 444.9,104.9 444.8,102.7 C444.7,100.6 444.5,98.3 444.4,96.3 C444.2,94.4 444.0,92.5 444.0,91.2 C443.9,89.9 443.5,89.2 444.0,88.7 Z" fill="#3157c4" filter="url(#bl)"/><g transform="rotate(0 445.5 90)" filter="url(#bl)"><ellipse cx="445.5" cy="90" rx="3.50" ry="6.00" fill="#3c9ee0"/><ellipse cx="445.5" cy="90" rx="1.93" ry="3.30" fill="#50c0e8"/></g><g transform="rotate(10 448.5 111.5)" filter="url(#bl)"><ellipse cx="448.5" cy="111.5" rx="4.50" ry="8.00" fill="#3aa8e0"/><ellipse cx="448.5" cy="111.5" rx="3.24" ry="5.76" fill="#5cc86a"/><ellipse cx="448.5" cy="111.5" rx="2.02" ry="3.60" fill="#b8dc40"/><ellipse cx="448.5" cy="111.5" rx="0.99" ry="1.76" fill="#e8e430"/></g></g><clipPath id="cp6"><path d="M392.0,135.2 C392.7,134.7 394.5,134.8 396.0,134.4 C397.5,134.0 399.6,133.2 400.8,132.8 C402.0,132.4 402.4,131.9 403.2,132.0 C404.0,132.1 404.8,132.8 405.6,133.6 C406.4,134.4 407.3,135.8 408.0,136.8 C408.7,137.8 409.2,138.6 410.0,139.5 C410.8,140.4 412.0,141.2 413.0,142.0 C414.0,142.8 415.0,143.3 416.0,144.0 C417.0,144.7 418.1,145.2 419.0,146.0 C419.9,146.8 420.8,148.1 421.5,149.0 C422.2,149.9 422.6,150.2 423.0,151.2 C423.4,152.2 423.7,153.9 424.0,155.2 C424.3,156.5 424.8,158.0 424.8,159.2 C424.8,160.4 424.0,161.3 424.0,162.4 C424.0,163.5 424.8,164.4 424.8,165.6 C424.8,166.8 424.5,168.5 424.0,169.6 C423.5,170.7 422.9,171.7 421.6,172.0 C420.3,172.3 417.6,171.8 416.0,171.5 C414.4,171.2 413.5,170.7 412.0,170.4 C410.5,170.1 408.7,169.7 407.2,169.6 C405.7,169.5 404.5,169.8 403.2,169.9 C401.9,170.0 400.7,169.9 399.2,169.9 C397.7,169.9 395.6,170.2 394.4,169.9 C393.2,169.6 392.4,169.7 392.0,168.0 C391.6,166.3 392.1,162.7 392.0,160.0 C391.9,157.3 391.6,154.7 391.5,152.0 C391.4,149.3 391.4,146.4 391.5,144.0 C391.6,141.6 391.9,139.1 392.0,137.6 C392.1,136.1 391.3,135.7 392.0,135.2 Z"/></clipPath><g clip-path="url(#cp6)"><path d="M392.0,135.2 C392.7,134.7 394.5,134.8 396.0,134.4 C397.5,134.0 399.6,133.2 400.8,132.8 C402.0,132.4 402.4,131.9 403.2,132.0 C404.0,132.1 404.8,132.8 405.6,133.6 C406.4,134.4 407.3,135.8 408.0,136.8 C408.7,137.8 409.2,138.6 410.0,139.5 C410.8,140.4 412.0,141.2 413.0,142.0 C414.0,142.8 415.0,143.3 416.0,144.0 C417.0,144.7 418.1,145.2 419.0,146.0 C419.9,146.8 420.8,148.1 421.5,149.0 C422.2,149.9 422.6,150.2 423.0,151.2 C423.4,152.2 423.7,153.9 424.0,155.2 C424.3,156.5 424.8,158.0 424.8,159.2 C424.8,160.4 424.0,161.3 424.0,162.4 C424.0,163.5 424.8,164.4 424.8,165.6 C424.8,166.8 424.5,168.5 424.0,169.6 C423.5,170.7 422.9,171.7 421.6,172.0 C420.3,172.3 417.6,171.8 416.0,171.5 C414.4,171.2 413.5,170.7 412.0,170.4 C410.5,170.1 408.7,169.7 407.2,169.6 C405.7,169.5 404.5,169.8 403.2,169.9 C401.9,170.0 400.7,169.9 399.2,169.9 C397.7,169.9 395.6,170.2 394.4,169.9 C393.2,169.6 392.4,169.7 392.0,168.0 C391.6,166.3 392.1,162.7 392.0,160.0 C391.9,157.3 391.6,154.7 391.5,152.0 C391.4,149.3 391.4,146.4 391.5,144.0 C391.6,141.6 391.9,139.1 392.0,137.6 C392.1,136.1 391.3,135.7 392.0,135.2 Z" fill="#1f3292"/><path d="M395.3,138.8 C395.8,138.4 397.3,138.5 398.5,138.2 C399.6,137.8 401.4,137.2 402.3,136.9 C403.3,136.6 403.6,136.1 404.2,136.2 C404.9,136.4 405.5,136.9 406.2,137.5 C406.8,138.2 407.5,139.3 408.1,140.1 C408.7,140.9 409.0,141.6 409.7,142.2 C410.3,142.9 411.3,143.6 412.1,144.2 C412.9,144.8 413.7,145.3 414.5,145.8 C415.3,146.4 416.1,146.8 416.9,147.4 C417.6,148.1 418.3,149.2 418.9,149.8 C419.4,150.5 419.7,150.8 420.1,151.6 C420.4,152.4 420.6,153.7 420.9,154.8 C421.1,155.9 421.5,157.0 421.5,158.0 C421.5,159.0 420.9,159.7 420.9,160.6 C420.9,161.4 421.5,162.2 421.5,163.1 C421.5,164.1 421.3,165.5 420.9,166.3 C420.4,167.2 420.0,168.0 419.0,168.2 C417.9,168.5 415.8,168.1 414.5,167.8 C413.2,167.6 412.4,167.2 411.3,167.0 C410.1,166.7 408.6,166.4 407.4,166.3 C406.3,166.3 405.3,166.5 404.2,166.6 C403.2,166.6 402.2,166.6 401.0,166.6 C399.9,166.6 398.2,166.8 397.2,166.6 C396.2,166.3 395.6,166.4 395.3,165.0 C395.0,163.7 395.3,160.8 395.3,158.6 C395.2,156.5 394.9,154.4 394.9,152.2 C394.8,150.1 394.8,147.8 394.9,145.8 C394.9,143.9 395.2,141.9 395.3,140.7 C395.3,139.6 394.7,139.2 395.3,138.8 Z" fill="#3157c4" filter="url(#bl)"/><g transform="rotate(0 405 140)" filter="url(#bl)"><ellipse cx="405" cy="140" rx="4.00" ry="6.00" fill="#3a7fd8"/></g><g transform="rotate(0 397.5 140)" filter="url(#bl)"><ellipse cx="397.5" cy="140" rx="6.00" ry="7.00" fill="#3aa8e0"/><ellipse cx="397.5" cy="140" rx="3.72" ry="4.34" fill="#58c470"/><ellipse cx="397.5" cy="140" rx="1.80" ry="2.10" fill="#88d050"/></g><g transform="rotate(5 398.8 155)" filter="url(#bl)"><ellipse cx="398.8" cy="155" rx="6.50" ry="13.00" fill="#3aa8e0"/><ellipse cx="398.8" cy="155" rx="5.07" ry="10.14" fill="#5cc86a"/><ellipse cx="398.8" cy="155" rx="3.58" ry="7.15" fill="#c8e040"/><ellipse cx="398.8" cy="155" rx="2.34" ry="4.68" fill="#f0a020"/><ellipse cx="398.8" cy="155" rx="1.30" ry="2.60" fill="#d82818"/></g><circle cx="408.8" cy="160.8" r="1.6" fill="#fff"/><circle cx="424.5" cy="151" r="1.4" fill="#fff"/></g><clipPath id="cp7"><path d="M442.0,135.2 C442.7,133.6 444.5,134.9 446.0,134.7 C447.5,134.5 449.7,134.5 450.8,134.1 C451.9,133.7 451.9,131.9 452.4,132.0 C452.9,132.1 453.7,132.9 454.0,134.4 C454.3,135.9 454.2,138.7 454.3,140.8 C454.4,142.9 454.6,145.3 454.8,147.2 C455.0,149.1 455.2,150.5 455.6,152.0 C456.0,153.5 456.5,154.9 457.2,156.0 C457.9,157.1 458.9,158.3 459.6,158.4 C460.3,158.5 460.8,157.4 461.2,156.8 C461.6,156.2 461.5,155.3 462.0,155.0 C462.5,154.7 463.7,155.4 464.4,155.2 C465.1,155.0 465.5,153.7 466.0,153.6 C466.5,153.5 466.9,154.5 467.6,154.4 C468.3,154.3 469.5,152.9 470.0,153.0 C470.5,153.1 470.1,154.8 470.8,154.9 C471.5,155.0 473.3,153.6 474.0,153.6 C474.7,153.6 474.3,154.8 474.8,155.2 C475.3,155.6 476.7,155.1 477.2,155.8 C477.7,156.5 478.0,158.1 478.0,159.2 C478.0,160.3 477.6,161.5 477.2,162.4 C476.8,163.3 476.3,164.0 475.6,164.8 C474.9,165.6 473.7,166.3 473.2,167.2 C472.7,168.1 473.1,169.6 472.4,170.4 C471.7,171.2 470.7,171.8 469.2,172.0 C467.7,172.2 465.3,171.8 463.6,171.5 C461.9,171.2 460.4,170.7 458.8,170.4 C457.2,170.1 455.6,170.0 454.0,169.9 C452.4,169.8 450.8,169.9 449.2,169.9 C447.6,169.9 445.6,170.4 444.4,169.9 C443.2,169.4 442.4,168.8 442.0,167.2 C441.6,165.5 442.0,162.5 442.0,160.0 C442.0,157.5 442.0,154.7 442.0,152.0 C442.0,149.3 442.0,146.8 442.0,144.0 C442.0,141.2 441.3,136.8 442.0,135.2 Z"/></clipPath><g clip-path="url(#cp7)"><path d="M442.0,135.2 C442.7,133.6 444.5,134.9 446.0,134.7 C447.5,134.5 449.7,134.5 450.8,134.1 C451.9,133.7 451.9,131.9 452.4,132.0 C452.9,132.1 453.7,132.9 454.0,134.4 C454.3,135.9 454.2,138.7 454.3,140.8 C454.4,142.9 454.6,145.3 454.8,147.2 C455.0,149.1 455.2,150.5 455.6,152.0 C456.0,153.5 456.5,154.9 457.2,156.0 C457.9,157.1 458.9,158.3 459.6,158.4 C460.3,158.5 460.8,157.4 461.2,156.8 C461.6,156.2 461.5,155.3 462.0,155.0 C462.5,154.7 463.7,155.4 464.4,155.2 C465.1,155.0 465.5,153.7 466.0,153.6 C466.5,153.5 466.9,154.5 467.6,154.4 C468.3,154.3 469.5,152.9 470.0,153.0 C470.5,153.1 470.1,154.8 470.8,154.9 C471.5,155.0 473.3,153.6 474.0,153.6 C474.7,153.6 474.3,154.8 474.8,155.2 C475.3,155.6 476.7,155.1 477.2,155.8 C477.7,156.5 478.0,158.1 478.0,159.2 C478.0,160.3 477.6,161.5 477.2,162.4 C476.8,163.3 476.3,164.0 475.6,164.8 C474.9,165.6 473.7,166.3 473.2,167.2 C472.7,168.1 473.1,169.6 472.4,170.4 C471.7,171.2 470.7,171.8 469.2,172.0 C467.7,172.2 465.3,171.8 463.6,171.5 C461.9,171.2 460.4,170.7 458.8,170.4 C457.2,170.1 455.6,170.0 454.0,169.9 C452.4,169.8 450.8,169.9 449.2,169.9 C447.6,169.9 445.6,170.4 444.4,169.9 C443.2,169.4 442.4,168.8 442.0,167.2 C441.6,165.5 442.0,162.5 442.0,160.0 C442.0,157.5 442.0,154.7 442.0,152.0 C442.0,149.3 442.0,146.8 442.0,144.0 C442.0,141.2 441.3,136.8 442.0,135.2 Z" fill="#1f3292"/><path d="M445.6,139.3 C446.1,138.0 447.6,139.0 448.8,138.9 C450.0,138.7 451.8,138.7 452.6,138.4 C453.5,138.0 453.5,136.7 453.9,136.7 C454.3,136.7 454.9,137.5 455.2,138.6 C455.4,139.8 455.3,142.0 455.4,143.7 C455.5,145.5 455.7,147.4 455.8,148.9 C456.0,150.4 456.2,151.5 456.5,152.7 C456.8,153.9 457.2,155.1 457.8,155.9 C458.3,156.8 459.1,157.7 459.7,157.8 C460.2,157.9 460.6,157.0 461.0,156.5 C461.3,156.1 461.2,155.3 461.6,155.1 C462.0,154.9 463.0,155.5 463.5,155.3 C464.0,155.1 464.4,154.1 464.8,154.0 C465.2,153.9 465.5,154.7 466.1,154.6 C466.6,154.5 467.6,153.4 468.0,153.5 C468.4,153.6 468.1,154.9 468.6,155.0 C469.2,155.1 470.7,153.9 471.2,154.0 C471.7,154.0 471.4,155.0 471.8,155.3 C472.3,155.6 473.3,155.2 473.8,155.7 C474.2,156.3 474.4,157.6 474.4,158.5 C474.4,159.3 474.1,160.3 473.8,161.0 C473.4,161.8 473.0,162.3 472.5,162.9 C471.9,163.6 471.0,164.1 470.6,164.9 C470.1,165.6 470.4,166.8 469.9,167.4 C469.4,168.1 468.5,168.6 467.4,168.7 C466.2,168.9 464.3,168.5 462.9,168.3 C461.5,168.1 460.3,167.6 459.0,167.4 C457.8,167.2 456.5,167.1 455.2,167.0 C453.9,167.0 452.6,167.0 451.4,167.0 C450.1,167.0 448.5,167.4 447.5,167.0 C446.6,166.7 445.9,166.2 445.6,164.9 C445.3,163.5 445.6,161.1 445.6,159.1 C445.6,157.1 445.6,154.8 445.6,152.7 C445.6,150.6 445.6,148.5 445.6,146.3 C445.6,144.1 445.1,140.5 445.6,139.3 Z" fill="#3157c4" filter="url(#bl)"/><g transform="rotate(0 448 138.5)" filter="url(#bl)"><ellipse cx="448" cy="138.5" rx="5.00" ry="6.00" fill="#3aa8e0"/><ellipse cx="448" cy="138.5" rx="3.10" ry="3.72" fill="#58c470"/><ellipse cx="448" cy="138.5" rx="1.50" ry="1.80" fill="#88d050"/></g><g transform="rotate(0 448 146)" filter="url(#bl)"><ellipse cx="448" cy="146" rx="4.00" ry="4.00" fill="#3c9ee0"/><ellipse cx="448" cy="146" rx="2.20" ry="2.20" fill="#50c0e8"/></g><g transform="rotate(0 448.8 160.5)" filter="url(#bl)"><ellipse cx="448.8" cy="160.5" rx="5.00" ry="9.00" fill="#3aa8e0"/><ellipse cx="448.8" cy="160.5" rx="3.60" ry="6.48" fill="#5cc86a"/><ellipse cx="448.8" cy="160.5" rx="2.25" ry="4.05" fill="#b8dc40"/><ellipse cx="448.8" cy="160.5" rx="1.10" ry="1.98" fill="#e8e430"/></g></g><clipPath id="cp8"><path d="M402.2,187.7 C402.8,187.1 404.1,187.0 404.8,187.1 C405.6,187.2 406.2,187.7 406.7,188.3 C407.2,188.9 407.7,190.0 408.0,190.9 C408.3,191.8 408.1,193.4 408.6,194.0 C409.1,194.6 410.3,194.4 411.1,194.7 C411.9,195.0 413.0,195.5 413.6,196.0 C414.2,196.5 414.9,197.1 414.9,197.8 C414.9,198.5 414.2,199.7 413.6,200.4 C413.0,201.2 411.8,201.7 411.1,202.3 C410.4,202.9 409.7,203.4 409.2,204.2 C408.7,205.0 408.4,206.2 408.0,207.3 C407.6,208.4 407.2,209.4 406.7,210.5 C406.2,211.6 405.6,212.9 404.8,213.7 C404.0,214.5 402.6,215.1 401.6,215.2 C400.7,215.3 399.7,215.0 399.1,214.3 C398.5,213.6 397.9,212.4 397.8,211.2 C397.7,210.0 398.1,208.6 398.4,207.3 C398.7,206.0 399.3,204.8 399.7,203.5 C400.1,202.2 400.8,201.2 401.0,199.7 C401.2,198.2 401.0,196.2 401.0,194.7 C401.0,193.2 400.8,192.1 401.0,190.9 C401.2,189.7 401.6,188.3 402.2,187.7 Z"/></clipPath><g clip-path="url(#cp8)"><path d="M402.2,187.7 C402.8,187.1 404.1,187.0 404.8,187.1 C405.6,187.2 406.2,187.7 406.7,188.3 C407.2,188.9 407.7,190.0 408.0,190.9 C408.3,191.8 408.1,193.4 408.6,194.0 C409.1,194.6 410.3,194.4 411.1,194.7 C411.9,195.0 413.0,195.5 413.6,196.0 C414.2,196.5 414.9,197.1 414.9,197.8 C414.9,198.5 414.2,199.7 413.6,200.4 C413.0,201.2 411.8,201.7 411.1,202.3 C410.4,202.9 409.7,203.4 409.2,204.2 C408.7,205.0 408.4,206.2 408.0,207.3 C407.6,208.4 407.2,209.4 406.7,210.5 C406.2,211.6 405.6,212.9 404.8,213.7 C404.0,214.5 402.6,215.1 401.6,215.2 C400.7,215.3 399.7,215.0 399.1,214.3 C398.5,213.6 397.9,212.4 397.8,211.2 C397.7,210.0 398.1,208.6 398.4,207.3 C398.7,206.0 399.3,204.8 399.7,203.5 C400.1,202.2 400.8,201.2 401.0,199.7 C401.2,198.2 401.0,196.2 401.0,194.7 C401.0,193.2 400.8,192.1 401.0,190.9 C401.2,189.7 401.6,188.3 402.2,187.7 Z" fill="#1f3292"/><path d="M402.9,190.3 C403.4,189.8 404.4,189.7 405.0,189.8 C405.6,189.9 406.1,190.2 406.5,190.7 C406.9,191.3 407.3,192.1 407.5,192.8 C407.8,193.6 407.6,194.8 408.0,195.3 C408.4,195.8 409.3,195.6 410.0,195.9 C410.7,196.1 411.5,196.5 412.0,196.9 C412.5,197.3 413.0,197.8 413.0,198.3 C413.0,198.9 412.5,199.8 412.0,200.4 C411.5,201.0 410.6,201.4 410.0,201.9 C409.4,202.5 408.9,202.8 408.5,203.5 C408.1,204.1 407.9,205.1 407.5,205.9 C407.2,206.8 406.9,207.7 406.5,208.5 C406.1,209.4 405.6,210.4 405.0,211.1 C404.3,211.7 403.2,212.2 402.4,212.3 C401.6,212.3 400.9,212.1 400.4,211.5 C399.9,211.0 399.5,210.0 399.4,209.1 C399.3,208.1 399.6,207.0 399.8,205.9 C400.1,204.9 400.5,203.9 400.9,202.9 C401.2,201.9 401.7,201.0 401.9,199.9 C402.1,198.7 401.9,197.0 401.9,195.9 C401.9,194.7 401.8,193.8 401.9,192.8 C402.1,191.9 402.4,190.8 402.9,190.3 Z" fill="#3157c4" filter="url(#bl)"/><g transform="rotate(20 402.5 206.5)" filter="url(#bl)"><ellipse cx="402.5" cy="206.5" rx="5.00" ry="8.50" fill="#3aa8e0"/><ellipse cx="402.5" cy="206.5" rx="3.90" ry="6.63" fill="#5cc86a"/><ellipse cx="402.5" cy="206.5" rx="2.75" ry="4.68" fill="#c8e040"/><ellipse cx="402.5" cy="206.5" rx="1.80" ry="3.06" fill="#f0a020"/><ellipse cx="402.5" cy="206.5" rx="1.00" ry="1.70" fill="#d82818"/></g></g><clipPath id="cp9"><path d="M453.2,186.7 C453.8,186.1 455.1,186.0 455.8,186.1 C456.6,186.2 457.2,186.7 457.7,187.3 C458.2,187.9 458.7,189.0 459.0,189.9 C459.3,190.8 459.1,192.4 459.6,193.0 C460.1,193.6 461.3,193.4 462.1,193.7 C462.9,194.0 464.0,194.5 464.6,195.0 C465.2,195.5 465.9,196.1 465.9,196.8 C465.9,197.5 465.2,198.7 464.6,199.4 C464.0,200.2 462.8,200.7 462.1,201.3 C461.4,201.9 460.7,202.4 460.2,203.2 C459.7,204.0 459.4,205.2 459.0,206.3 C458.6,207.4 458.2,208.4 457.7,209.5 C457.2,210.6 456.6,211.9 455.8,212.7 C455.0,213.5 453.6,214.1 452.6,214.2 C451.7,214.3 450.7,214.0 450.1,213.3 C449.5,212.6 448.9,211.4 448.8,210.2 C448.7,209.0 449.1,207.6 449.4,206.3 C449.7,205.0 450.3,203.8 450.7,202.5 C451.1,201.2 451.8,200.2 452.0,198.7 C452.2,197.2 452.0,195.2 452.0,193.7 C452.0,192.2 451.8,191.1 452.0,189.9 C452.2,188.7 452.6,187.3 453.2,186.7 Z"/></clipPath><g clip-path="url(#cp9)"><path d="M453.2,186.7 C453.8,186.1 455.1,186.0 455.8,186.1 C456.6,186.2 457.2,186.7 457.7,187.3 C458.2,187.9 458.7,189.0 459.0,189.9 C459.3,190.8 459.1,192.4 459.6,193.0 C460.1,193.6 461.3,193.4 462.1,193.7 C462.9,194.0 464.0,194.5 464.6,195.0 C465.2,195.5 465.9,196.1 465.9,196.8 C465.9,197.5 465.2,198.7 464.6,199.4 C464.0,200.2 462.8,200.7 462.1,201.3 C461.4,201.9 460.7,202.4 460.2,203.2 C459.7,204.0 459.4,205.2 459.0,206.3 C458.6,207.4 458.2,208.4 457.7,209.5 C457.2,210.6 456.6,211.9 455.8,212.7 C455.0,213.5 453.6,214.1 452.6,214.2 C451.7,214.3 450.7,214.0 450.1,213.3 C449.5,212.6 448.9,211.4 448.8,210.2 C448.7,209.0 449.1,207.6 449.4,206.3 C449.7,205.0 450.3,203.8 450.7,202.5 C451.1,201.2 451.8,200.2 452.0,198.7 C452.2,197.2 452.0,195.2 452.0,193.7 C452.0,192.2 451.8,191.1 452.0,189.9 C452.2,188.7 452.6,187.3 453.2,186.7 Z" fill="#1f3292"/><path d="M453.9,189.3 C454.4,188.8 455.4,188.7 456.0,188.8 C456.6,188.9 457.1,189.2 457.5,189.7 C457.9,190.3 458.3,191.1 458.5,191.8 C458.8,192.6 458.6,193.8 459.0,194.3 C459.4,194.8 460.3,194.6 461.0,194.9 C461.7,195.1 462.5,195.5 463.0,195.9 C463.5,196.3 464.0,196.8 464.0,197.3 C464.0,197.9 463.5,198.8 463.0,199.4 C462.5,200.0 461.6,200.4 461.0,200.9 C460.4,201.5 459.9,201.8 459.5,202.5 C459.1,203.1 458.9,204.1 458.5,204.9 C458.2,205.8 457.9,206.7 457.5,207.5 C457.1,208.4 456.6,209.4 456.0,210.1 C455.3,210.7 454.2,211.2 453.4,211.3 C452.6,211.3 451.9,211.1 451.4,210.5 C450.9,210.0 450.5,209.0 450.4,208.1 C450.3,207.1 450.6,206.0 450.8,204.9 C451.1,203.9 451.5,202.9 451.9,201.9 C452.2,200.9 452.7,200.0 452.9,198.9 C453.1,197.7 452.9,196.0 452.9,194.9 C452.9,193.7 452.8,192.8 452.9,191.8 C453.1,190.9 453.4,189.8 453.9,189.3 Z" fill="#3157c4" filter="url(#bl)"/><g transform="rotate(20 453.5 205.5)" filter="url(#bl)"><ellipse cx="453.5" cy="205.5" rx="5.00" ry="8.50" fill="#3aa8e0"/><ellipse cx="453.5" cy="205.5" rx="3.90" ry="6.63" fill="#5cc86a"/><ellipse cx="453.5" cy="205.5" rx="2.75" ry="4.68" fill="#c8e040"/><ellipse cx="453.5" cy="205.5" rx="1.80" ry="3.06" fill="#f0a020"/><ellipse cx="453.5" cy="205.5" rx="1.00" ry="1.70" fill="#d82818"/></g></g><clipPath id="cp10"><path d="M411.1,247.0 C411.9,246.9 412.8,247.1 413.4,247.5 C414.0,247.9 414.6,248.4 414.8,249.3 C415.0,250.2 414.7,251.8 414.4,253.1 C414.1,254.3 413.6,255.6 413.0,256.8 C412.4,258.0 411.4,259.1 410.6,260.1 C409.8,261.1 409.0,262.4 408.3,262.9 C407.6,263.4 406.9,263.2 406.4,262.9 C405.8,262.6 405.4,261.9 405.0,261.0 C404.6,260.1 404.2,259.1 404.1,257.8 C404.0,256.5 404.1,254.4 404.5,253.1 C404.9,251.8 405.7,250.7 406.4,249.8 C407.1,249.0 407.9,248.5 408.7,248.0 C409.5,247.5 410.3,247.1 411.1,247.0 Z"/></clipPath><g clip-path="url(#cp10)"><path d="M411.1,247.0 C411.9,246.9 412.8,247.1 413.4,247.5 C414.0,247.9 414.6,248.4 414.8,249.3 C415.0,250.2 414.7,251.8 414.4,253.1 C414.1,254.3 413.6,255.6 413.0,256.8 C412.4,258.0 411.4,259.1 410.6,260.1 C409.8,261.1 409.0,262.4 408.3,262.9 C407.6,263.4 406.9,263.2 406.4,262.9 C405.8,262.6 405.4,261.9 405.0,261.0 C404.6,260.1 404.2,259.1 404.1,257.8 C404.0,256.5 404.1,254.4 404.5,253.1 C404.9,251.8 405.7,250.7 406.4,249.8 C407.1,249.0 407.9,248.5 408.7,248.0 C409.5,247.5 410.3,247.1 411.1,247.0 Z" fill="#1f3292"/><path d="M410.7,248.5 C411.4,248.4 412.1,248.6 412.6,248.9 C413.1,249.2 413.6,249.6 413.7,250.4 C413.8,251.1 413.6,252.4 413.4,253.4 C413.1,254.4 412.8,255.4 412.3,256.4 C411.8,257.3 411.0,258.2 410.3,259.0 C409.7,259.8 409.1,260.9 408.5,261.2 C407.9,261.6 407.4,261.5 407.0,261.2 C406.5,261.0 406.2,260.4 405.9,259.7 C405.6,259.0 405.2,258.2 405.1,257.2 C405.1,256.1 405.2,254.5 405.5,253.4 C405.8,252.3 406.4,251.4 407.0,250.8 C407.5,250.1 408.2,249.7 408.8,249.3 C409.4,248.9 410.1,248.6 410.7,248.5 Z" fill="#3157c4" filter="url(#bl)"/><g transform="rotate(20 409.2 253.6)" filter="url(#bl)"><ellipse cx="409.2" cy="253.6" rx="4.50" ry="6.50" fill="#3aa8e0"/><ellipse cx="409.2" cy="253.6" rx="3.24" ry="4.68" fill="#5cc86a"/><ellipse cx="409.2" cy="253.6" rx="2.02" ry="2.93" fill="#b8dc40"/><ellipse cx="409.2" cy="253.6" rx="0.99" ry="1.43" fill="#e8e430"/></g></g><clipPath id="cp11"><path d="M454.7,235.3 C455.4,234.5 456.5,234.3 457.3,234.3 C458.1,234.3 458.7,234.7 459.3,235.3 C459.9,235.9 460.4,237.0 460.7,238.0 C461.0,239.0 461.0,240.1 461.3,241.3 C461.6,242.5 462.0,244.4 462.7,245.3 C463.4,246.2 464.3,246.4 465.3,246.7 C466.3,247.0 467.7,247.1 468.7,247.3 C469.7,247.5 470.4,247.8 471.3,248.0 C472.2,248.2 473.1,248.2 474.0,248.7 C474.9,249.1 476.1,250.0 476.7,250.7 C477.2,251.4 477.5,252.1 477.3,252.7 C477.1,253.2 476.1,253.9 475.3,254.0 C474.5,254.1 473.6,253.3 472.7,253.3 C471.8,253.3 471.0,253.9 470.0,254.0 C469.0,254.1 467.7,253.9 466.7,254.0 C465.7,254.1 464.8,254.2 464.0,254.7 C463.2,255.1 462.6,255.8 462.0,256.7 C461.4,257.6 461.1,259.0 460.7,260.0 C460.2,261.0 459.9,261.8 459.3,262.7 C458.7,263.6 458.0,265.2 457.3,265.3 C456.6,265.4 456.0,264.0 455.3,263.3 C454.6,262.6 453.9,262.2 453.3,261.3 C452.8,260.4 452.2,259.2 452.0,258.0 C451.8,256.8 451.8,255.3 452.0,254.0 C452.2,252.7 452.9,251.6 453.1,250.0 C453.3,248.4 453.3,246.5 453.3,244.7 C453.3,242.9 453.1,240.9 453.3,239.3 C453.5,237.7 454.0,236.1 454.7,235.3 Z"/></clipPath><g clip-path="url(#cp11)"><path d="M454.7,235.3 C455.4,234.5 456.5,234.3 457.3,234.3 C458.1,234.3 458.7,234.7 459.3,235.3 C459.9,235.9 460.4,237.0 460.7,238.0 C461.0,239.0 461.0,240.1 461.3,241.3 C461.6,242.5 462.0,244.4 462.7,245.3 C463.4,246.2 464.3,246.4 465.3,246.7 C466.3,247.0 467.7,247.1 468.7,247.3 C469.7,247.5 470.4,247.8 471.3,248.0 C472.2,248.2 473.1,248.2 474.0,248.7 C474.9,249.1 476.1,250.0 476.7,250.7 C477.2,251.4 477.5,252.1 477.3,252.7 C477.1,253.2 476.1,253.9 475.3,254.0 C474.5,254.1 473.6,253.3 472.7,253.3 C471.8,253.3 471.0,253.9 470.0,254.0 C469.0,254.1 467.7,253.9 466.7,254.0 C465.7,254.1 464.8,254.2 464.0,254.7 C463.2,255.1 462.6,255.8 462.0,256.7 C461.4,257.6 461.1,259.0 460.7,260.0 C460.2,261.0 459.9,261.8 459.3,262.7 C458.7,263.6 458.0,265.2 457.3,265.3 C456.6,265.4 456.0,264.0 455.3,263.3 C454.6,262.6 453.9,262.2 453.3,261.3 C452.8,260.4 452.2,259.2 452.0,258.0 C451.8,256.8 451.8,255.3 452.0,254.0 C452.2,252.7 452.9,251.6 453.1,250.0 C453.3,248.4 453.3,246.5 453.3,244.7 C453.3,242.9 453.1,240.9 453.3,239.3 C453.5,237.7 454.0,236.1 454.7,235.3 Z" fill="#1f3292"/><path d="M456.3,238.3 C456.8,237.6 457.7,237.5 458.3,237.5 C459.0,237.5 459.5,237.8 459.9,238.3 C460.4,238.8 460.8,239.7 461.1,240.5 C461.3,241.3 461.3,242.1 461.5,243.1 C461.8,244.1 462.1,245.6 462.7,246.3 C463.2,247.0 463.9,247.2 464.7,247.4 C465.5,247.7 466.7,247.7 467.5,247.9 C468.3,248.1 468.8,248.3 469.5,248.5 C470.2,248.7 471.0,248.7 471.7,249.0 C472.4,249.4 473.4,250.1 473.9,250.6 C474.3,251.2 474.5,251.8 474.3,252.2 C474.2,252.7 473.4,253.2 472.7,253.3 C472.1,253.3 471.4,252.7 470.7,252.7 C470.0,252.7 469.3,253.2 468.5,253.3 C467.7,253.4 466.7,253.2 465.9,253.3 C465.1,253.4 464.3,253.5 463.7,253.8 C463.1,254.2 462.5,254.7 462.1,255.4 C461.7,256.1 461.4,257.3 461.1,258.1 C460.7,258.9 460.4,259.5 459.9,260.2 C459.5,260.9 458.9,262.2 458.3,262.3 C457.8,262.4 457.3,261.2 456.7,260.7 C456.2,260.2 455.6,259.8 455.1,259.1 C454.7,258.4 454.3,257.4 454.1,256.5 C453.9,255.5 454.0,254.3 454.1,253.3 C454.2,252.2 454.8,251.3 455.0,250.1 C455.2,248.8 455.1,247.3 455.1,245.8 C455.2,244.4 455.0,242.8 455.1,241.5 C455.3,240.3 455.7,239.0 456.3,238.3 Z" fill="#3157c4" filter="url(#bl)"/><g transform="rotate(0 456.7 245)" filter="url(#bl)"><ellipse cx="456.7" cy="245" rx="3.50" ry="9.00" fill="#3c9ee0"/><ellipse cx="456.7" cy="245" rx="1.93" ry="4.95" fill="#50c0e8"/></g><g transform="rotate(0 456.7 251.3)" filter="url(#bl)"><ellipse cx="456.7" cy="251.3" rx="5.00" ry="6.00" fill="#3aa8e0"/><ellipse cx="456.7" cy="251.3" rx="3.60" ry="4.32" fill="#5cc86a"/><ellipse cx="456.7" cy="251.3" rx="2.25" ry="2.70" fill="#b8dc40"/><ellipse cx="456.7" cy="251.3" rx="1.10" ry="1.32" fill="#e8e430"/></g></g>
<text x="388.0" y="30.7" font-size="6.3" text-anchor="start" fill="#a46d9e" letter-spacing="0.15">1.83</text>
<text x="436.0" y="30.7" font-size="6.3" text-anchor="end" fill="#a46d9e" letter-spacing="0.15">7.74</text>
<text x="388.0" y="72.39999999999999" font-size="6.3" text-anchor="start" fill="#a46d9e" letter-spacing="0.15">43.5</text>
<text x="436.0" y="72.39999999999999" font-size="6.3" text-anchor="end" fill="#a46d9e" letter-spacing="0.15">46.9</text>
<path d="M402.40000000000003,73.19999999999999 H421.8" stroke="#8c8c8c" stroke-width="1.4"/>
<text x="439.0" y="30.7" font-size="6.3" text-anchor="start" fill="#a46d9e" letter-spacing="0.15">13.9</text>
<text x="487.0" y="30.7" font-size="6.3" text-anchor="end" fill="#a46d9e" letter-spacing="0.15">4.89</text>
<text x="439.0" y="72.39999999999999" font-size="6.3" text-anchor="start" fill="#a46d9e" letter-spacing="0.15">61.3</text>
<text x="487.0" y="72.39999999999999" font-size="6.3" text-anchor="end" fill="#a46d9e" letter-spacing="0.15">19.4</text>
<path d="M453.40000000000003,73.19999999999999 H472.8" stroke="#8c8c8c" stroke-width="1.4"/>
<text x="388.0" y="82.0" font-size="6.3" text-anchor="start" fill="#a46d9e" letter-spacing="0.15">5.09</text>
<text x="436.0" y="82.0" font-size="6.3" text-anchor="end" fill="#a46d9e" letter-spacing="0.15">0.36</text>
<text x="388.0" y="123.7" font-size="6.3" text-anchor="start" fill="#a46d9e" letter-spacing="0.15">88.1</text>
<text x="436.0" y="123.7" font-size="6.3" text-anchor="end" fill="#a46d9e" letter-spacing="0.15">5.42</text>
<path d="M402.40000000000003,124.5 H421.8" stroke="#8c8c8c" stroke-width="1.4"/>
<text x="439.0" y="82.0" font-size="6.3" text-anchor="start" fill="#a46d9e" letter-spacing="0.15">9.61</text>
<text x="487.0" y="82.0" font-size="6.3" text-anchor="end" fill="#a46d9e" letter-spacing="0.15">0.288</text>
<text x="439.0" y="123.7" font-size="6.3" text-anchor="start" fill="#a46d9e" letter-spacing="0.15">87.1</text>
<text x="487.0" y="123.7" font-size="6.3" text-anchor="end" fill="#a46d9e" letter-spacing="0.15">3.04</text>
<path d="M453.40000000000003,124.5 H472.8" stroke="#8c8c8c" stroke-width="1.4"/>
<text x="388.0" y="132.2" font-size="6.3" text-anchor="start" fill="#a46d9e" letter-spacing="0.15">25.5</text>
<text x="436.0" y="132.2" font-size="6.3" text-anchor="end" fill="#a46d9e" letter-spacing="0.15">1.28</text>
<text x="388.0" y="173.9" font-size="6.3" text-anchor="start" fill="#a46d9e" letter-spacing="0.15">66.6</text>
<text x="436.0" y="173.9" font-size="6.3" text-anchor="end" fill="#a46d9e" letter-spacing="0.15">6.6</text>
<path d="M402.40000000000003,174.7 H421.8" stroke="#8c8c8c" stroke-width="1.4"/>
<text x="439.0" y="132.2" font-size="6.3" text-anchor="start" fill="#a46d9e" letter-spacing="0.15">32.5</text>
<text x="487.0" y="132.2" font-size="6.3" text-anchor="end" fill="#a46d9e" letter-spacing="0.15">0.428</text>
<text x="439.0" y="173.9" font-size="6.3" text-anchor="start" fill="#a46d9e" letter-spacing="0.15">61.6</text>
<text x="487.0" y="173.9" font-size="6.3" text-anchor="end" fill="#a46d9e" letter-spacing="0.15">5.32</text>
<path d="M453.40000000000003,174.7 H472.8" stroke="#8c8c8c" stroke-width="1.4"/>
<text x="388.0" y="182.2" font-size="6.3" text-anchor="start" fill="#a46d9e" letter-spacing="0.15">6.81</text>
<text x="436.0" y="182.2" font-size="6.3" text-anchor="end" fill="#a46d9e" letter-spacing="0.15">1</text>
<text x="388.0" y="223.9" font-size="6.3" text-anchor="start" fill="#a46d9e" letter-spacing="0.15">91.7</text>
<text x="436.0" y="223.9" font-size="6.3" text-anchor="end" fill="#a46d9e" letter-spacing="0.15">1.5</text>
<path d="M402.40000000000003,224.7 H421.8" stroke="#8c8c8c" stroke-width="1.4"/>
<text x="439.0" y="182.2" font-size="6.3" text-anchor="start" fill="#a46d9e" letter-spacing="0.15">6.5</text>
<text x="487.0" y="182.2" font-size="6.3" text-anchor="end" fill="#a46d9e" letter-spacing="0.15">1.23</text>
<text x="439.0" y="223.9" font-size="6.3" text-anchor="start" fill="#a46d9e" letter-spacing="0.15">90.8</text>
<text x="487.0" y="223.9" font-size="6.3" text-anchor="end" fill="#a46d9e" letter-spacing="0.15">1.47</text>
<path d="M453.40000000000003,224.7 H472.8" stroke="#8c8c8c" stroke-width="1.4"/>
<text x="388.0" y="232.2" font-size="6.3" text-anchor="start" fill="#a46d9e" letter-spacing="0.15">0.958</text>
<text x="436.0" y="232.2" font-size="6.3" text-anchor="end" fill="#a46d9e" letter-spacing="0.15">0.43</text>
<text x="388.0" y="273.90000000000003" font-size="6.3" text-anchor="start" fill="#a46d9e" letter-spacing="0.15">89.2</text>
<text x="436.0" y="273.90000000000003" font-size="6.3" text-anchor="end" fill="#a46d9e" letter-spacing="0.15">9.39</text>
<path d="M402.40000000000003,274.70000000000005 H421.8" stroke="#8c8c8c" stroke-width="1.4"/>
<text x="439.0" y="232.2" font-size="6.3" text-anchor="start" fill="#a46d9e" letter-spacing="0.15">17.2</text>
<text x="487.0" y="232.2" font-size="6.3" text-anchor="end" fill="#a46d9e" letter-spacing="0.15">1.14</text>
<text x="439.0" y="273.90000000000003" font-size="6.3" text-anchor="start" fill="#a46d9e" letter-spacing="0.15">77.3</text>
<text x="487.0" y="273.90000000000003" font-size="6.3" text-anchor="end" fill="#a46d9e" letter-spacing="0.15">4.4</text>
<path d="M453.40000000000003,274.70000000000005 H472.8" stroke="#8c8c8c" stroke-width="1.4"/>
<path d="M381.7,31 V243" stroke="#000" stroke-width="1.5"/><path d="M381.7,27.8 l-3.3,6.2 h6.6 z" fill="#000"/>
<text transform="translate(383.8,254.3) rotate(-90)" x="0" y="0" font-size="8.4" font-weight="bold" font-style="italic" text-anchor="middle" fill="#000" stroke="#000" stroke-width="0.25" >IFNγ</text>
<text x="398.8" y="285.3" font-size="8.7" font-weight="bold" font-style="italic" text-anchor="start" fill="#000" stroke="#000" stroke-width="0.25" >IL17</text>
<path d="M420,282 H485" stroke="#000" stroke-width="1.6"/><path d="M488,282 l-5.5,-3.8 M488,282 l-5.5,3.8" stroke="#000" stroke-width="1.6" fill="none"/>
<text transform="translate(360.8,96.6) rotate(-90)" x="0" y="0" font-size="8.4" font-weight="bold" textLength="28" lengthAdjust="spacingAndGlyphs" text-anchor="middle" fill="#000" stroke="#000" stroke-width="0.25" >Lymph</text>
<text transform="translate(370.6,98) rotate(-90)" x="0" y="0" font-size="8.4" font-weight="bold" textLength="17.7" lengthAdjust="spacingAndGlyphs" text-anchor="middle" fill="#000" stroke="#000" stroke-width="0.25" >node</text>
<text transform="translate(370.8,148) rotate(-90)" x="0" y="0" font-size="8.4" font-weight="bold" textLength="28" lengthAdjust="spacingAndGlyphs" text-anchor="middle" fill="#000" stroke="#000" stroke-width="0.25" >Spleen</text>
<text transform="translate(360.7,191.5) rotate(-90)" x="0" y="0" font-size="8.4" font-weight="bold" textLength="46" lengthAdjust="spacingAndGlyphs" text-anchor="middle" fill="#000" stroke="#000" stroke-width="0.25" >Peripheral</text>
<text transform="translate(371.2,200) rotate(-90)" x="0" y="0" font-size="8.2" font-weight="bold" textLength="21" lengthAdjust="spacingAndGlyphs" text-anchor="middle" fill="#000" stroke="#000" stroke-width="0.25" >blood</text>
<text transform="translate(360.6,247) rotate(-90)" x="0" y="0" font-size="8.4" font-weight="bold" text-anchor="middle" fill="#000" stroke="#000" stroke-width="0.25" >Tumor</text>
<text transform="translate(371.2,247.5) rotate(-90)" x="0" y="0" font-size="8.4" font-weight="bold" text-anchor="middle" fill="#000" stroke="#000" stroke-width="0.25" >site</text>
<text transform="translate(495.6,50.4) rotate(-90)" x="0" y="0" font-size="8.0" font-weight="bold" textLength="42" lengthAdjust="spacingAndGlyphs" text-anchor="middle" fill="#000" stroke="#000" stroke-width="0.25" >Pretransfer</text>
<path d="M491,78.5 V284" stroke="#000" stroke-width="1.6"/>
<text transform="translate(502.3,191) rotate(-90)" x="0" y="0" font-size="8.0" font-weight="bold" textLength="45" lengthAdjust="spacingAndGlyphs" text-anchor="middle" fill="#000" stroke="#000" stroke-width="0.25" >Posttransfer</text>
<text x="15.0" y="177.0" font-size="13.4" font-weight="bold" text-anchor="start" fill="#000" stroke="#000" stroke-width="0.25" >D</text>
<text x="56.5" y="178.8" font-size="8.5" font-weight="bold" text-anchor="start" fill="#000" stroke="#000" stroke-width="0.25" >Th17</text>
<text x="76.0" y="176.5" font-size="6.2" font-weight="bold" text-anchor="start" fill="#000" letter-spacing="0.15">TGFβ1</text>
<text x="143" y="178.8" font-size="8.5" font-weight="bold" text-anchor="start" fill="#000" stroke="#000" stroke-width="0.25" >Th17</text>
<text x="162.5" y="176.5" font-size="6.2" font-weight="bold" text-anchor="start" fill="#000" letter-spacing="0.15">IL1β</text>
<rect x="36.8" y="184.2" width="77.4" height="79.4" fill="#fff" stroke="#bdbdbd" stroke-width="0.9"/>
<rect x="122.2" y="184.2" width="76.6" height="79.4" fill="#fff" stroke="#bdbdbd" stroke-width="0.9"/>
<clipPath id="cp12"><path d="M44.8,202.8 C45.7,201.7 46.7,200.9 48.2,200.5 C49.7,200.1 52.2,200.2 53.9,200.5 C55.6,200.8 57.2,201.8 58.5,202.4 C59.8,203.0 60.6,203.6 61.9,204.0 C63.2,204.4 64.7,204.7 66.4,204.6 C68.1,204.5 70.0,203.5 72.1,203.3 C74.2,203.1 77.0,203.0 78.9,203.3 C80.8,203.6 82.4,204.2 83.5,205.1 C84.6,206.0 85.2,207.2 85.7,208.5 C86.2,209.8 86.4,211.5 86.2,213.0 C86.0,214.5 85.4,216.3 84.6,217.6 C83.8,218.8 82.9,219.8 81.2,220.5 C79.5,221.2 76.7,221.4 74.4,221.5 C72.1,221.6 69.6,221.0 67.5,221.0 C65.4,221.0 63.6,221.1 61.9,221.5 C60.2,221.9 58.4,222.2 57.3,223.3 C56.1,224.4 55.4,226.1 55.0,227.8 C54.6,229.5 54.6,232.2 55.0,233.5 C55.4,234.8 56.1,235.3 57.3,235.8 C58.4,236.3 61.0,235.9 61.9,236.5 C62.8,237.1 62.9,237.8 62.5,239.2 C62.1,240.6 60.6,243.0 59.6,244.9 C58.6,246.8 57.0,248.7 56.2,250.5 C55.4,252.3 55.8,254.3 55.0,255.5 C54.2,256.7 52.7,257.5 51.6,257.8 C50.5,258.1 49.0,258.0 48.2,257.4 C47.4,256.8 46.8,255.5 46.6,254.0 C46.4,252.5 47.0,250.4 47.1,248.3 C47.2,246.2 47.7,243.8 47.5,241.5 C47.3,239.2 46.5,236.9 46.0,234.6 C45.5,232.3 45.3,230.1 44.8,227.8 C44.3,225.5 43.4,223.3 43.0,221.0 C42.6,218.7 42.5,216.5 42.5,214.2 C42.5,211.9 42.6,209.3 43.0,207.4 C43.4,205.5 43.9,204.0 44.8,202.8 Z"/></clipPath><g clip-path="url(#cp12)"><path d="M44.8,202.8 C45.7,201.7 46.7,200.9 48.2,200.5 C49.7,200.1 52.2,200.2 53.9,200.5 C55.6,200.8 57.2,201.8 58.5,202.4 C59.8,203.0 60.6,203.6 61.9,204.0 C63.2,204.4 64.7,204.7 66.4,204.6 C68.1,204.5 70.0,203.5 72.1,203.3 C74.2,203.1 77.0,203.0 78.9,203.3 C80.8,203.6 82.4,204.2 83.5,205.1 C84.6,206.0 85.2,207.2 85.7,208.5 C86.2,209.8 86.4,211.5 86.2,213.0 C86.0,214.5 85.4,216.3 84.6,217.6 C83.8,218.8 82.9,219.8 81.2,220.5 C79.5,221.2 76.7,221.4 74.4,221.5 C72.1,221.6 69.6,221.0 67.5,221.0 C65.4,221.0 63.6,221.1 61.9,221.5 C60.2,221.9 58.4,222.2 57.3,223.3 C56.1,224.4 55.4,226.1 55.0,227.8 C54.6,229.5 54.6,232.2 55.0,233.5 C55.4,234.8 56.1,235.3 57.3,235.8 C58.4,236.3 61.0,235.9 61.9,236.5 C62.8,237.1 62.9,237.8 62.5,239.2 C62.1,240.6 60.6,243.0 59.6,244.9 C58.6,246.8 57.0,248.7 56.2,250.5 C55.4,252.3 55.8,254.3 55.0,255.5 C54.2,256.7 52.7,257.5 51.6,257.8 C50.5,258.1 49.0,258.0 48.2,257.4 C47.4,256.8 46.8,255.5 46.6,254.0 C46.4,252.5 47.0,250.4 47.1,248.3 C47.2,246.2 47.7,243.8 47.5,241.5 C47.3,239.2 46.5,236.9 46.0,234.6 C45.5,232.3 45.3,230.1 44.8,227.8 C44.3,225.5 43.4,223.3 43.0,221.0 C42.6,218.7 42.5,216.5 42.5,214.2 C42.5,211.9 42.6,209.3 43.0,207.4 C43.4,205.5 43.9,204.0 44.8,202.8 Z" fill="#1f3292"/><path d="M47.0,206.1 C47.8,205.1 48.6,204.4 49.9,204.1 C51.2,203.8 53.3,203.8 54.8,204.1 C56.2,204.4 57.5,205.2 58.7,205.7 C59.8,206.2 60.5,206.8 61.6,207.1 C62.7,207.4 64.0,207.7 65.4,207.6 C66.8,207.5 68.5,206.7 70.2,206.5 C72.0,206.3 74.4,206.2 76.0,206.5 C77.6,206.8 79.0,207.3 79.9,208.0 C80.9,208.8 81.4,209.8 81.8,210.9 C82.2,212.0 82.4,213.5 82.2,214.7 C82.1,216.0 81.6,217.6 80.9,218.7 C80.2,219.7 79.4,220.6 78.0,221.1 C76.5,221.7 74.1,221.9 72.2,222.0 C70.3,222.0 68.1,221.5 66.3,221.5 C64.6,221.5 63.0,221.6 61.6,222.0 C60.1,222.3 58.6,222.6 57.7,223.5 C56.7,224.4 56.0,225.9 55.7,227.3 C55.4,228.8 55.4,231.0 55.7,232.2 C56.0,233.3 56.7,233.7 57.7,234.1 C58.6,234.5 60.8,234.2 61.6,234.7 C62.3,235.2 62.4,235.8 62.1,237.0 C61.8,238.2 60.5,240.3 59.6,241.9 C58.7,243.5 57.4,245.1 56.7,246.6 C56.1,248.1 56.4,249.8 55.7,250.9 C55.1,251.9 53.8,252.6 52.8,252.8 C51.9,253.1 50.6,253.0 49.9,252.5 C49.2,251.9 48.7,250.9 48.6,249.6 C48.4,248.3 48.9,246.5 49.0,244.7 C49.1,243.0 49.5,240.9 49.3,239.0 C49.2,237.0 48.4,235.0 48.1,233.1 C47.7,231.2 47.5,229.2 47.0,227.3 C46.6,225.4 45.8,223.5 45.5,221.5 C45.2,219.6 45.1,217.7 45.1,215.8 C45.1,213.8 45.2,211.6 45.5,210.0 C45.8,208.4 46.3,207.0 47.0,206.1 Z" fill="#3157c4" filter="url(#bl)"/><g transform="rotate(0 74.4 212.5)" filter="url(#bl)"><ellipse cx="74.4" cy="212.5" rx="9.00" ry="6.00" fill="#3c9ee0"/><ellipse cx="74.4" cy="212.5" rx="4.95" ry="3.30" fill="#50c0e8"/></g><g transform="rotate(0 50.5 213)" filter="url(#bl)"><ellipse cx="50.5" cy="213" rx="8.50" ry="12.00" fill="#3aa8e0"/><ellipse cx="50.5" cy="213" rx="6.63" ry="9.36" fill="#5cc86a"/><ellipse cx="50.5" cy="213" rx="4.68" ry="6.60" fill="#c8e040"/><ellipse cx="50.5" cy="213" rx="3.06" ry="4.32" fill="#f0a020"/><ellipse cx="50.5" cy="213" rx="1.70" ry="2.40" fill="#d82818"/></g><g transform="rotate(10 51.6 246)" filter="url(#bl)"><ellipse cx="51.6" cy="246" rx="5.00" ry="9.00" fill="#3aa8e0"/><ellipse cx="51.6" cy="246" rx="3.10" ry="5.58" fill="#58c470"/><ellipse cx="51.6" cy="246" rx="1.50" ry="2.70" fill="#88d050"/></g></g><clipPath id="cp13"><path d="M128.3,200.1 C129.1,198.2 130.6,197.6 132.1,196.8 C133.6,196.0 135.3,195.3 137.2,195.2 C139.1,195.1 141.6,195.4 143.3,196.0 C145.0,196.6 146.6,197.3 147.6,198.6 C148.6,199.9 149.4,201.9 149.6,203.9 C149.8,205.9 149.4,208.2 149.0,210.3 C148.6,212.4 147.6,214.5 147.3,216.6 C147.1,218.7 147.1,221.0 147.5,222.9 C147.9,224.8 149.0,226.3 149.5,228.0 C150.0,229.7 150.6,231.2 150.6,233.0 C150.6,234.8 150.3,237.0 149.6,239.1 C148.9,241.2 147.4,243.3 146.3,245.4 C145.2,247.5 144.0,250.0 142.8,251.8 C141.7,253.7 140.6,255.2 139.4,256.5 C138.2,257.8 136.8,258.9 135.6,259.3 C134.4,259.7 133.1,259.6 132.2,259.0 C131.3,258.4 130.4,257.2 130.0,255.5 C129.6,253.8 129.8,251.4 129.6,248.6 C129.4,245.8 129.3,241.9 129.1,238.5 C128.9,235.1 128.6,231.8 128.3,228.4 C128.0,225.0 127.6,221.7 127.4,218.3 C127.2,214.9 127.2,210.9 127.4,207.9 C127.6,204.9 127.5,201.9 128.3,200.1 Z"/></clipPath><g clip-path="url(#cp13)"><path d="M128.3,200.1 C129.1,198.2 130.6,197.6 132.1,196.8 C133.6,196.0 135.3,195.3 137.2,195.2 C139.1,195.1 141.6,195.4 143.3,196.0 C145.0,196.6 146.6,197.3 147.6,198.6 C148.6,199.9 149.4,201.9 149.6,203.9 C149.8,205.9 149.4,208.2 149.0,210.3 C148.6,212.4 147.6,214.5 147.3,216.6 C147.1,218.7 147.1,221.0 147.5,222.9 C147.9,224.8 149.0,226.3 149.5,228.0 C150.0,229.7 150.6,231.2 150.6,233.0 C150.6,234.8 150.3,237.0 149.6,239.1 C148.9,241.2 147.4,243.3 146.3,245.4 C145.2,247.5 144.0,250.0 142.8,251.8 C141.7,253.7 140.6,255.2 139.4,256.5 C138.2,257.8 136.8,258.9 135.6,259.3 C134.4,259.7 133.1,259.6 132.2,259.0 C131.3,258.4 130.4,257.2 130.0,255.5 C129.6,253.8 129.8,251.4 129.6,248.6 C129.4,245.8 129.3,241.9 129.1,238.5 C128.9,235.1 128.6,231.8 128.3,228.4 C128.0,225.0 127.6,221.7 127.4,218.3 C127.2,214.9 127.2,210.9 127.4,207.9 C127.6,204.9 127.5,201.9 128.3,200.1 Z" fill="#1f3292"/><path d="M129.9,204.1 C130.6,202.5 131.9,202.0 133.2,201.3 C134.4,200.6 135.9,200.0 137.5,199.9 C139.1,199.8 141.2,200.1 142.7,200.6 C144.1,201.1 145.4,201.7 146.3,202.8 C147.2,203.9 147.8,205.6 148.0,207.3 C148.2,208.9 147.8,210.9 147.5,212.7 C147.2,214.5 146.3,216.3 146.1,218.1 C145.9,219.9 145.9,221.8 146.2,223.4 C146.6,225.1 147.5,226.3 147.9,227.8 C148.4,229.2 148.9,230.5 148.9,232.0 C148.9,233.6 148.6,235.5 148.0,237.2 C147.4,239.0 146.2,240.8 145.2,242.6 C144.3,244.4 143.2,246.4 142.2,248.0 C141.3,249.6 140.4,250.9 139.4,252.0 C138.3,253.1 137.1,254.0 136.1,254.4 C135.1,254.7 134.0,254.7 133.2,254.1 C132.4,253.6 131.7,252.6 131.4,251.2 C131.0,249.7 131.2,247.7 131.0,245.3 C130.9,242.9 130.8,239.6 130.6,236.7 C130.4,233.8 130.2,231.0 129.9,228.1 C129.7,225.3 129.3,222.4 129.2,219.5 C129.0,216.6 129.0,213.3 129.2,210.7 C129.3,208.1 129.3,205.6 129.9,204.1 Z" fill="#3157c4" filter="url(#bl)"/><g transform="rotate(0 138 228)" filter="url(#bl)"><ellipse cx="138" cy="228" rx="7.00" ry="14.00" fill="#3c9ee0"/><ellipse cx="138" cy="228" rx="3.85" ry="7.70" fill="#50c0e8"/></g><g transform="rotate(0 134.5 206.5)" filter="url(#bl)"><ellipse cx="134.5" cy="206.5" rx="8.00" ry="11.00" fill="#3aa8e0"/><ellipse cx="134.5" cy="206.5" rx="6.24" ry="8.58" fill="#5cc86a"/><ellipse cx="134.5" cy="206.5" rx="4.40" ry="6.05" fill="#c8e040"/><ellipse cx="134.5" cy="206.5" rx="2.88" ry="3.96" fill="#f0a020"/><ellipse cx="134.5" cy="206.5" rx="1.60" ry="2.20" fill="#d82818"/></g><g transform="rotate(8 136 245)" filter="url(#bl)"><ellipse cx="136" cy="245" rx="6.00" ry="12.00" fill="#3aa8e0"/><ellipse cx="136" cy="245" rx="4.32" ry="8.64" fill="#5cc86a"/><ellipse cx="136" cy="245" rx="2.70" ry="5.40" fill="#b8dc40"/><ellipse cx="136" cy="245" rx="1.32" ry="2.64" fill="#e8e430"/></g></g>
<path d="M68.6,184.2 V263.6 M36.8,220.4 H114.2" stroke="#3a3a3a" stroke-width="1.1" fill="none"/>
<text x="38.3" y="194.7" font-size="8.2" text-anchor="start" fill="#000" >73.5</text>
<text x="104.7" y="194.7" font-size="8.2" text-anchor="end" fill="#000" >8.17</text>
<text x="38.3" y="257.40000000000003" font-size="8.2" text-anchor="start" fill="#000" >17.4</text>
<text x="104.7" y="257.40000000000003" font-size="8.2" text-anchor="end" fill="#000" >0.83</text>
<path d="M35.199999999999996,190.7 H36.8" stroke="#666" stroke-width="0.7"/>
<text x="30.2" y="191.3" font-size="3.6" fill="#999">10<tspan font-size="2.6" dy="-1.3">5</tspan></text>
<path d="M35.199999999999996,208.7 H36.8" stroke="#666" stroke-width="0.7"/>
<text x="30.2" y="209.3" font-size="3.6" fill="#999">10<tspan font-size="2.6" dy="-1.3">4</tspan></text>
<path d="M35.199999999999996,225.7 H36.8" stroke="#666" stroke-width="0.7"/>
<text x="30.2" y="226.3" font-size="3.6" fill="#999">10<tspan font-size="2.6" dy="-1.3">3</tspan></text>
<path d="M35.599999999999994,243.6 H36.8" stroke="#777" stroke-width="0.5"/>
<path d="M35.599999999999994,245.7 H36.8" stroke="#777" stroke-width="0.5"/>
<path d="M35.599999999999994,247.8 H36.8" stroke="#777" stroke-width="0.5"/>
<path d="M35.599999999999994,249.9 H36.8" stroke="#777" stroke-width="0.5"/>
<path d="M35.599999999999994,252.0 H36.8" stroke="#777" stroke-width="0.5"/>
<path d="M35.599999999999994,254.1 H36.8" stroke="#777" stroke-width="0.5"/>
<path d="M35.599999999999994,256.2 H36.8" stroke="#777" stroke-width="0.5"/>
<path d="M35.599999999999994,258.3 H36.8" stroke="#777" stroke-width="0.5"/>
<path d="M72.0,263.6 V265.20000000000005" stroke="#666" stroke-width="0.7"/>
<text x="70.4" y="269.8" font-size="3.6" fill="#999">10<tspan font-size="2.6" dy="-1.3">3</tspan></text>
<path d="M89.4,263.6 V265.20000000000005" stroke="#666" stroke-width="0.7"/>
<text x="87.8" y="269.8" font-size="3.6" fill="#999">10<tspan font-size="2.6" dy="-1.3">4</tspan></text>
<path d="M105.9,263.6 V265.20000000000005" stroke="#666" stroke-width="0.7"/>
<text x="104.3" y="269.8" font-size="3.6" fill="#999">10<tspan font-size="2.6" dy="-1.3">5</tspan></text>
<path d="M41.3,263.6 V265.0" stroke="#444" stroke-width="0.6"/>
<path d="M43.4,263.6 V265.0" stroke="#444" stroke-width="0.6"/>
<path d="M45.5,263.6 V265.0" stroke="#444" stroke-width="0.6"/>
<path d="M47.6,263.6 V265.0" stroke="#444" stroke-width="0.6"/>
<path d="M49.7,263.6 V265.0" stroke="#444" stroke-width="0.6"/>
<path d="M51.8,263.6 V265.0" stroke="#444" stroke-width="0.6"/>
<text x="47.0" y="269.8" font-size="3.6" fill="#999">0</text>
<path d="M154.4,184.2 V263.6 M122.2,220.4 H198.8" stroke="#3a3a3a" stroke-width="1.1" fill="none"/>
<text x="123.7" y="194.7" font-size="8.2" text-anchor="start" fill="#000" >57.6</text>
<text x="189.3" y="194.7" font-size="8.2" text-anchor="end" fill="#000" >0.37</text>
<text x="123.7" y="257.40000000000003" font-size="8.2" text-anchor="start" fill="#000" >41.7</text>
<text x="189.3" y="257.40000000000003" font-size="8.2" text-anchor="end" fill="#000" >0.29</text>
<path d="M120.60000000000001,190.7 H122.2" stroke="#666" stroke-width="0.7"/>
<text x="115.6" y="191.3" font-size="3.6" fill="#999">10<tspan font-size="2.6" dy="-1.3">5</tspan></text>
<path d="M120.60000000000001,208.7 H122.2" stroke="#666" stroke-width="0.7"/>
<text x="115.6" y="209.3" font-size="3.6" fill="#999">10<tspan font-size="2.6" dy="-1.3">4</tspan></text>
<path d="M120.60000000000001,225.7 H122.2" stroke="#666" stroke-width="0.7"/>
<text x="115.6" y="226.3" font-size="3.6" fill="#999">10<tspan font-size="2.6" dy="-1.3">3</tspan></text>
<path d="M121.0,243.6 H122.2" stroke="#777" stroke-width="0.5"/>
<path d="M121.0,245.7 H122.2" stroke="#777" stroke-width="0.5"/>
<path d="M121.0,247.8 H122.2" stroke="#777" stroke-width="0.5"/>
<path d="M121.0,249.9 H122.2" stroke="#777" stroke-width="0.5"/>
<path d="M121.0,252.0 H122.2" stroke="#777" stroke-width="0.5"/>
<path d="M121.0,254.1 H122.2" stroke="#777" stroke-width="0.5"/>
<path d="M121.0,256.2 H122.2" stroke="#777" stroke-width="0.5"/>
<path d="M121.0,258.3 H122.2" stroke="#777" stroke-width="0.5"/>
<path d="M157.4,263.6 V265.20000000000005" stroke="#666" stroke-width="0.7"/>
<text x="155.8" y="269.8" font-size="3.6" fill="#999">10<tspan font-size="2.6" dy="-1.3">3</tspan></text>
<path d="M174.8,263.6 V265.20000000000005" stroke="#666" stroke-width="0.7"/>
<text x="173.2" y="269.8" font-size="3.6" fill="#999">10<tspan font-size="2.6" dy="-1.3">4</tspan></text>
<path d="M191.3,263.6 V265.20000000000005" stroke="#666" stroke-width="0.7"/>
<text x="189.7" y="269.8" font-size="3.6" fill="#999">10<tspan font-size="2.6" dy="-1.3">5</tspan></text>
<path d="M126.7,263.6 V265.0" stroke="#444" stroke-width="0.6"/>
<path d="M128.8,263.6 V265.0" stroke="#444" stroke-width="0.6"/>
<path d="M130.9,263.6 V265.0" stroke="#444" stroke-width="0.6"/>
<path d="M133.0,263.6 V265.0" stroke="#444" stroke-width="0.6"/>
<path d="M135.1,263.6 V265.0" stroke="#444" stroke-width="0.6"/>
<path d="M137.2,263.6 V265.0" stroke="#444" stroke-width="0.6"/>
<text x="132.4" y="269.8" font-size="3.6" fill="#999">0</text>
<path d="M28,186 V239.2" stroke="#000" stroke-width="1.4"/><path d="M28,181.5 l-2.8,5.5 h5.6 z" fill="#000"/>
<text transform="translate(30.6,248.0) rotate(-90)" x="0" y="0" font-size="9.2" font-weight="bold" font-style="italic" text-anchor="middle" fill="#000" stroke="#000" stroke-width="0.25" >Vβ5</text>
<text x="39.5" y="278.6" font-size="8.55" font-weight="bold" font-style="italic" text-anchor="start" fill="#000" stroke="#000" stroke-width="0.25" >FoxP3-GFP</text>
<path d="M88.8,276.5 H190" stroke="#000" stroke-width="1.5"/><path d="M193,276.5 l-5.5,-3.6 M193,276.5 l-5.5,3.6" stroke="#000" stroke-width="1.5" fill="none"/>
<path d="M224,182.9 V248.7 H246" stroke="#000" stroke-width="1.2" fill="none"/>
<path d="M221.5,248.70 H224" stroke="#000" stroke-width="1"/>
<text x="220.6" y="251.1" font-size="6.6" font-weight="bold" text-anchor="end" fill="#000" stroke="#000" stroke-width="0.25" >0</text>
<path d="M221.5,235.54 H224" stroke="#000" stroke-width="1"/>
<text x="220.6" y="237.94" font-size="6.6" font-weight="bold" text-anchor="end" fill="#000" stroke="#000" stroke-width="0.25" >1</text>
<path d="M221.5,222.38 H224" stroke="#000" stroke-width="1"/>
<text x="220.6" y="224.78" font-size="6.6" font-weight="bold" text-anchor="end" fill="#000" stroke="#000" stroke-width="0.25" >2</text>
<path d="M221.5,209.22 H224" stroke="#000" stroke-width="1"/>
<text x="220.6" y="211.62" font-size="6.6" font-weight="bold" text-anchor="end" fill="#000" stroke="#000" stroke-width="0.25" >3</text>
<path d="M221.5,196.06 H224" stroke="#000" stroke-width="1"/>
<text x="220.6" y="198.46" font-size="6.6" font-weight="bold" text-anchor="end" fill="#000" stroke="#000" stroke-width="0.25" >4</text>
<path d="M221.5,182.90 H224" stroke="#000" stroke-width="1"/>
<text x="220.6" y="185.3" font-size="6.6" font-weight="bold" text-anchor="end" fill="#000" stroke="#000" stroke-width="0.25" >5</text>
<rect x="226.6" y="235.54" width="9.3" height="13.16" fill="#3a55a5" stroke="#000" stroke-width="0.9"/>
<rect x="237.3" y="198.03" width="9.3" height="50.67" fill="#6cbf45" stroke="#000" stroke-width="0.9"/>
<path d="M240,192.11 H244.5 M242.2,192.11 V198.03" stroke="#000" stroke-width="0.9"/>
<path d="M231.2,248.7 V251.5 M242,248.7 V251.5" stroke="#000" stroke-width="0.9"/>
<text x="226.6" y="186.8" font-size="6.8" font-weight="bold" text-anchor="start" fill="#000" stroke="#000" stroke-width="0.25" >Gfi</text>
<text x="242.6" y="192.6" font-size="6.8" font-weight="bold" text-anchor="middle" fill="#333" letter-spacing="0.5">***</text>
<text transform="translate(212.3,217) rotate(-90)" x="0" y="0" font-size="7.4" font-weight="bold" textLength="43.5" lengthAdjust="spacingAndGlyphs" text-anchor="middle" fill="#000" stroke="#000" stroke-width="0.25" >Fold change</text>
<rect x="213.3" y="258.3" width="12.3" height="6.3" rx="0.8" fill="#3a55a5" stroke="#000" stroke-width="1.3"/>
<rect x="213.3" y="270.3" width="12.3" height="6.3" rx="0.8" fill="#6cbf45" stroke="#000" stroke-width="1.3"/>
<text x="227.6" y="264.4" font-size="8.5" font-weight="bold" text-anchor="start" fill="#000" stroke="#000" stroke-width="0.25" >Th17</text>
<text x="247.6" y="262.2" font-size="6.2" font-weight="bold" text-anchor="start" fill="#000" letter-spacing="0.15">TGFβ1</text>
<text x="227.6" y="276.3" font-size="8.5" font-weight="bold" text-anchor="start" fill="#000" stroke="#000" stroke-width="0.25" >Th17</text>
<text x="247.6" y="274.2" font-size="6.2" font-weight="bold" text-anchor="start" fill="#000" letter-spacing="0.15">IL1β</text>
<path d="M0.5,0 V300" stroke="#9a9a9a" stroke-width="1"/><path d="M0,0.5 H520" stroke="#b4b4b4" stroke-width="1"/>
<path d="M518.5,0 V300" stroke="#c4c4c4" stroke-width="1"/><path d="M0,298.5 H520" stroke="#cfcfcf" stroke-width="1"/><path d="M519.5,0 V300" stroke="#8e8e8e" stroke-width="1"/><path d="M0,299.5 H520" stroke="#7a7a7a" stroke-width="1"/>
</svg></body></html>
